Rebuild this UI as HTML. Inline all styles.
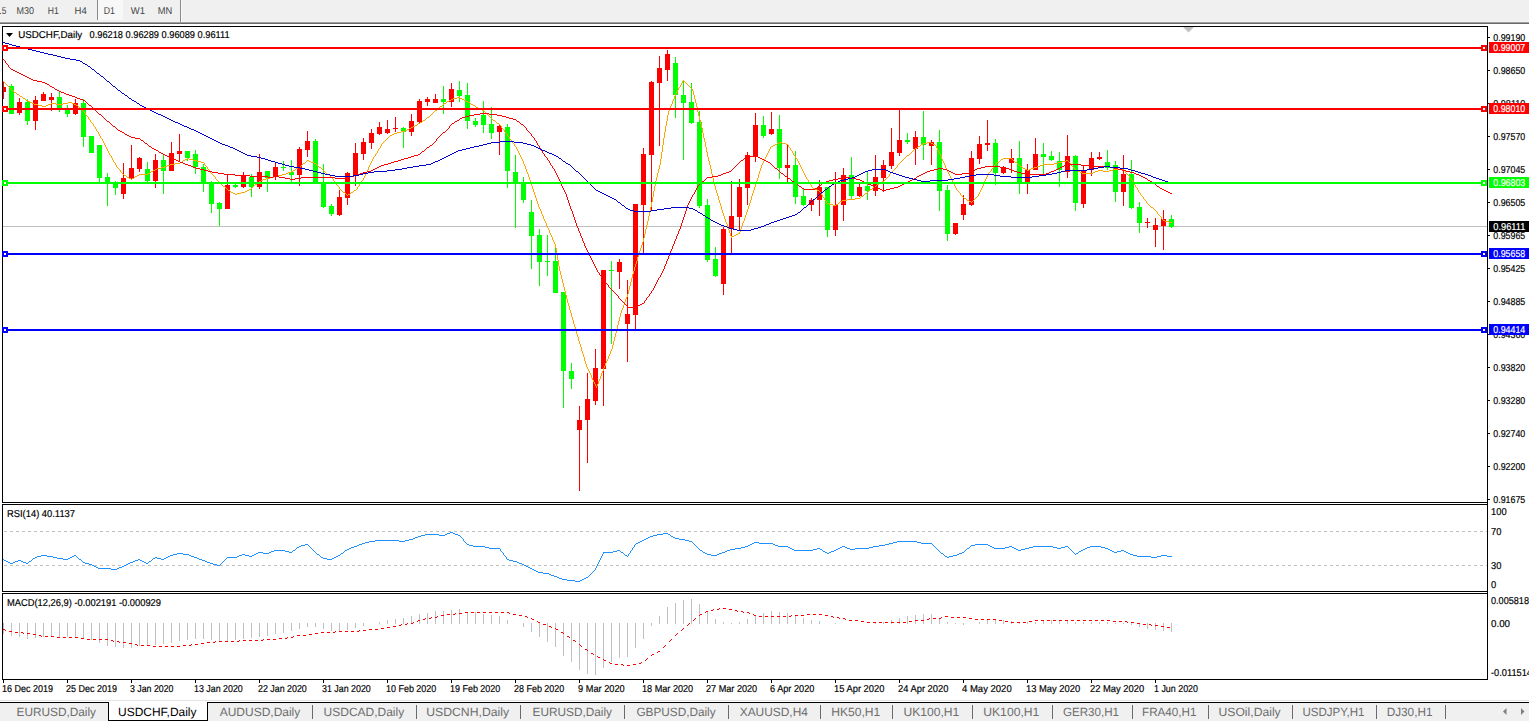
<!DOCTYPE html>
<html><head><meta charset="utf-8"><title>USDCHF,Daily</title>
<style>html,body{margin:0;padding:0;background:#fff;overflow:hidden}body{width:1529px;height:721px;font-family:"Liberation Sans",sans-serif}svg text{font-family:"Liberation Sans",sans-serif}</style></head>
<body>
<svg width="1529" height="721" viewBox="0 0 1529 721" font-family="Liberation Sans, sans-serif" shape-rendering="crispEdges" text-rendering="geometricPrecision" style="display:block">
<rect x="0" y="0" width="1529" height="721" fill="#fff" />
<rect x="0" y="0" width="1529" height="21" fill="#f0f0f0" />
<rect x="0" y="21" width="1529" height="1" fill="#f3f3f3" />
<rect x="0" y="13" width="1" height="1" fill="#555" />
<rect x="0" y="22" width="1529" height="1" fill="#a0a0a0" />
<rect x="0" y="23" width="1529" height="1" fill="#696969" />
<rect x="98" y="0" width="25" height="20" fill="#f8f8f8" />
<rect x="97" y="0" width="1" height="20" fill="#8a8a8a" />
<rect x="180" y="0" width="1" height="22" fill="#8a8a8a" />
<rect x="181" y="0" width="1" height="22" fill="#fafafa" />
<text x="1.8" y="13.6" font-size="10" fill="#444" stroke="#444" stroke-width="0" textLength="4.6" lengthAdjust="spacingAndGlyphs" >5</text>
<text x="16.5" y="13.6" font-size="10" fill="#444" stroke="#444" stroke-width="0" textLength="17.5" lengthAdjust="spacingAndGlyphs" >M30</text>
<text x="47.8" y="13.6" font-size="10" fill="#444" stroke="#444" stroke-width="0" textLength="11" lengthAdjust="spacingAndGlyphs" >H1</text>
<text x="74.5" y="13.6" font-size="10" fill="#444" stroke="#444" stroke-width="0" textLength="12.2" lengthAdjust="spacingAndGlyphs" >H4</text>
<text x="103.8" y="13.6" font-size="10" fill="#444" stroke="#444" stroke-width="0" textLength="11.2" lengthAdjust="spacingAndGlyphs" >D1</text>
<text x="130.8" y="13.6" font-size="10" fill="#444" stroke="#444" stroke-width="0" textLength="14.2" lengthAdjust="spacingAndGlyphs" >W1</text>
<text x="157.7" y="13.6" font-size="10" fill="#444" stroke="#444" stroke-width="0" textLength="14.5" lengthAdjust="spacingAndGlyphs" >MN</text>
<rect x="2" y="26" width="1486" height="1" fill="#000" />
<rect x="2" y="26" width="1" height="477" fill="#000" />
<rect x="2" y="502" width="1486" height="1" fill="#000" />
<rect x="2" y="504" width="1486" height="1" fill="#000" />
<rect x="2" y="504" width="1" height="88" fill="#000" />
<rect x="2" y="591" width="1486" height="1" fill="#000" />
<rect x="2" y="593" width="1486" height="1" fill="#000" />
<rect x="2" y="593" width="1" height="87" fill="#000" />
<rect x="2" y="679" width="1486" height="1" fill="#000" />
<rect x="1487" y="26" width="1" height="654" fill="#000" />
<clipPath id="cm"><rect x="3" y="27" width="1484" height="475"/></clipPath>
<g clip-path="url(#cm)">
<rect x="3" y="226" width="1484" height="1" fill="#c0c0c0" />
<rect x="3" y="81" width="1" height="18" fill="#ff0000" />
<rect x="1" y="87" width="5" height="5" fill="#ff0000" />
<rect x="11" y="84" width="1" height="30" fill="#00ff00" />
<rect x="9" y="86" width="5" height="28" fill="#00ff00" />
<rect x="19" y="98" width="1" height="17" fill="#ff0000" />
<rect x="17" y="102" width="5" height="11" fill="#ff0000" />
<rect x="27" y="99" width="1" height="26" fill="#00ff00" />
<rect x="25" y="102" width="5" height="19" fill="#00ff00" />
<rect x="35" y="96" width="1" height="34" fill="#ff0000" />
<rect x="33" y="100" width="5" height="21" fill="#ff0000" />
<rect x="43" y="92" width="1" height="9" fill="#ff0000" />
<rect x="41" y="94" width="5" height="7" fill="#ff0000" />
<rect x="51" y="93" width="1" height="18" fill="#ff0000" />
<rect x="49" y="97" width="5" height="3" fill="#ff0000" />
<rect x="59" y="92" width="1" height="20" fill="#00ff00" />
<rect x="57" y="97" width="5" height="11" fill="#00ff00" />
<rect x="67" y="105" width="1" height="12" fill="#00ff00" />
<rect x="65" y="110" width="5" height="4" fill="#00ff00" />
<rect x="75" y="99" width="1" height="16" fill="#ff0000" />
<rect x="73" y="103" width="5" height="11" fill="#ff0000" />
<rect x="83" y="99" width="1" height="48" fill="#00ff00" />
<rect x="81" y="103" width="5" height="34" fill="#00ff00" />
<rect x="91" y="136" width="1" height="17" fill="#00ff00" />
<rect x="89" y="136" width="5" height="17" fill="#00ff00" />
<rect x="99" y="145" width="1" height="37" fill="#00ff00" />
<rect x="97" y="145" width="5" height="33" fill="#00ff00" />
<rect x="107" y="173" width="1" height="33" fill="#00ff00" />
<rect x="105" y="177" width="5" height="6" fill="#00ff00" />
<rect x="115" y="181" width="1" height="14" fill="#00ff00" />
<rect x="113" y="183" width="5" height="5" fill="#00ff00" />
<rect x="123" y="163" width="1" height="36" fill="#ff0000" />
<rect x="121" y="178" width="5" height="16" fill="#ff0000" />
<rect x="131" y="145" width="1" height="35" fill="#ff0000" />
<rect x="129" y="168" width="5" height="10" fill="#ff0000" />
<rect x="139" y="157" width="1" height="15" fill="#ff0000" />
<rect x="137" y="158" width="5" height="11" fill="#ff0000" />
<rect x="147" y="162" width="1" height="20" fill="#00ff00" />
<rect x="145" y="169" width="5" height="12" fill="#00ff00" />
<rect x="155" y="154" width="1" height="34" fill="#ff0000" />
<rect x="153" y="160" width="5" height="21" fill="#ff0000" />
<rect x="163" y="155" width="1" height="39" fill="#00ff00" />
<rect x="161" y="160" width="5" height="11" fill="#00ff00" />
<rect x="171" y="142" width="1" height="29" fill="#ff0000" />
<rect x="169" y="153" width="5" height="18" fill="#ff0000" />
<rect x="179" y="134" width="1" height="28" fill="#ff0000" />
<rect x="177" y="151" width="5" height="3" fill="#ff0000" />
<rect x="187" y="151" width="1" height="10" fill="#00ff00" />
<rect x="185" y="151" width="5" height="7" fill="#00ff00" />
<rect x="195" y="150" width="1" height="24" fill="#00ff00" />
<rect x="193" y="154" width="5" height="13" fill="#00ff00" />
<rect x="203" y="164" width="1" height="28" fill="#00ff00" />
<rect x="201" y="167" width="5" height="16" fill="#00ff00" />
<rect x="211" y="181" width="1" height="32" fill="#00ff00" />
<rect x="209" y="183" width="5" height="21" fill="#00ff00" />
<rect x="219" y="202" width="1" height="24" fill="#00ff00" />
<rect x="217" y="203" width="5" height="6" fill="#00ff00" />
<rect x="227" y="175" width="1" height="34" fill="#ff0000" />
<rect x="225" y="185" width="5" height="24" fill="#ff0000" />
<rect x="235" y="184" width="1" height="4" fill="#00ff00" />
<rect x="233" y="185" width="5" height="2" fill="#00ff00" />
<rect x="243" y="172" width="1" height="16" fill="#ff0000" />
<rect x="241" y="176" width="5" height="11" fill="#ff0000" />
<rect x="251" y="174" width="1" height="23" fill="#00ff00" />
<rect x="249" y="177" width="5" height="10" fill="#00ff00" />
<rect x="259" y="154" width="1" height="35" fill="#ff0000" />
<rect x="257" y="172" width="5" height="15" fill="#ff0000" />
<rect x="267" y="171" width="1" height="21" fill="#00ff00" />
<rect x="265" y="171" width="5" height="7" fill="#00ff00" />
<rect x="275" y="162" width="1" height="18" fill="#ff0000" />
<rect x="273" y="167" width="5" height="10" fill="#ff0000" />
<rect x="283" y="161" width="1" height="10" fill="#00ff00" />
<rect x="281" y="167" width="5" height="1" fill="#00ff00" />
<rect x="291" y="160" width="1" height="22" fill="#00ff00" />
<rect x="289" y="172" width="5" height="3" fill="#00ff00" />
<rect x="299" y="147" width="1" height="39" fill="#ff0000" />
<rect x="297" y="149" width="5" height="26" fill="#ff0000" />
<rect x="307" y="131" width="1" height="26" fill="#ff0000" />
<rect x="305" y="141" width="5" height="9" fill="#ff0000" />
<rect x="315" y="139" width="1" height="45" fill="#00ff00" />
<rect x="313" y="141" width="5" height="43" fill="#00ff00" />
<rect x="323" y="164" width="1" height="44" fill="#00ff00" />
<rect x="321" y="184" width="5" height="23" fill="#00ff00" />
<rect x="331" y="204" width="1" height="12" fill="#00ff00" />
<rect x="329" y="206" width="5" height="8" fill="#00ff00" />
<rect x="339" y="190" width="1" height="26" fill="#ff0000" />
<rect x="337" y="197" width="5" height="18" fill="#ff0000" />
<rect x="347" y="172" width="1" height="33" fill="#ff0000" />
<rect x="345" y="173" width="5" height="25" fill="#ff0000" />
<rect x="355" y="143" width="1" height="43" fill="#ff0000" />
<rect x="353" y="153" width="5" height="23" fill="#ff0000" />
<rect x="363" y="138" width="1" height="22" fill="#ff0000" />
<rect x="361" y="142" width="5" height="12" fill="#ff0000" />
<rect x="371" y="129" width="1" height="20" fill="#ff0000" />
<rect x="369" y="133" width="5" height="10" fill="#ff0000" />
<rect x="379" y="122" width="1" height="13" fill="#ff0000" />
<rect x="377" y="127" width="5" height="7" fill="#ff0000" />
<rect x="387" y="120" width="1" height="14" fill="#ff0000" />
<rect x="385" y="129" width="5" height="4" fill="#ff0000" />
<rect x="395" y="117" width="1" height="15" fill="#ff0000" />
<rect x="393" y="128" width="5" height="1" fill="#ff0000" />
<rect x="403" y="127" width="1" height="21" fill="#00ff00" />
<rect x="401" y="128" width="5" height="4" fill="#00ff00" />
<rect x="411" y="114" width="1" height="22" fill="#ff0000" />
<rect x="409" y="121" width="5" height="11" fill="#ff0000" />
<rect x="419" y="99" width="1" height="25" fill="#ff0000" />
<rect x="417" y="101" width="5" height="21" fill="#ff0000" />
<rect x="427" y="97" width="1" height="9" fill="#ff0000" />
<rect x="425" y="99" width="5" height="3" fill="#ff0000" />
<rect x="435" y="94" width="1" height="9" fill="#ff0000" />
<rect x="433" y="99" width="5" height="4" fill="#ff0000" />
<rect x="443" y="86" width="1" height="28" fill="#00ff00" />
<rect x="441" y="99" width="5" height="3" fill="#00ff00" />
<rect x="451" y="83" width="1" height="24" fill="#ff0000" />
<rect x="449" y="89" width="5" height="13" fill="#ff0000" />
<rect x="459" y="81" width="1" height="21" fill="#00ff00" />
<rect x="457" y="90" width="5" height="6" fill="#00ff00" />
<rect x="467" y="83" width="1" height="46" fill="#00ff00" />
<rect x="465" y="95" width="5" height="26" fill="#00ff00" />
<rect x="475" y="118" width="1" height="9" fill="#00ff00" />
<rect x="473" y="121" width="5" height="4" fill="#00ff00" />
<rect x="483" y="101" width="1" height="32" fill="#00ff00" />
<rect x="481" y="115" width="5" height="10" fill="#00ff00" />
<rect x="491" y="107" width="1" height="32" fill="#00ff00" />
<rect x="489" y="124" width="5" height="9" fill="#00ff00" />
<rect x="499" y="124" width="1" height="31" fill="#ff0000" />
<rect x="497" y="126" width="5" height="6" fill="#ff0000" />
<rect x="507" y="124" width="1" height="64" fill="#00ff00" />
<rect x="505" y="127" width="5" height="44" fill="#00ff00" />
<rect x="515" y="155" width="1" height="73" fill="#00ff00" />
<rect x="513" y="172" width="5" height="11" fill="#00ff00" />
<rect x="523" y="177" width="1" height="26" fill="#00ff00" />
<rect x="521" y="183" width="5" height="17" fill="#00ff00" />
<rect x="531" y="200" width="1" height="69" fill="#00ff00" />
<rect x="529" y="212" width="5" height="24" fill="#00ff00" />
<rect x="539" y="229" width="1" height="57" fill="#00ff00" />
<rect x="537" y="235" width="5" height="27" fill="#00ff00" />
<rect x="547" y="235" width="1" height="41" fill="#00ff00" />
<rect x="545" y="261" width="5" height="1" fill="#00ff00" />
<rect x="555" y="247" width="1" height="46" fill="#00ff00" />
<rect x="553" y="261" width="5" height="32" fill="#00ff00" />
<rect x="563" y="292" width="1" height="116" fill="#00ff00" />
<rect x="561" y="292" width="5" height="79" fill="#00ff00" />
<rect x="571" y="363" width="1" height="26" fill="#00ff00" />
<rect x="569" y="371" width="5" height="8" fill="#00ff00" />
<rect x="579" y="406" width="1" height="85" fill="#ff0000" />
<rect x="577" y="420" width="5" height="10" fill="#ff0000" />
<rect x="587" y="373" width="1" height="90" fill="#ff0000" />
<rect x="585" y="399" width="5" height="21" fill="#ff0000" />
<rect x="595" y="349" width="1" height="56" fill="#ff0000" />
<rect x="593" y="368" width="5" height="33" fill="#ff0000" />
<rect x="603" y="270" width="1" height="136" fill="#ff0000" />
<rect x="601" y="270" width="5" height="99" fill="#ff0000" />
<rect x="611" y="261" width="1" height="83" fill="#00ff00" />
<rect x="609" y="270" width="5" height="1" fill="#00ff00" />
<rect x="619" y="259" width="1" height="30" fill="#ff0000" />
<rect x="617" y="262" width="5" height="10" fill="#ff0000" />
<rect x="627" y="280" width="1" height="82" fill="#ff0000" />
<rect x="625" y="314" width="5" height="10" fill="#ff0000" />
<rect x="635" y="204" width="1" height="125" fill="#ff0000" />
<rect x="633" y="204" width="5" height="111" fill="#ff0000" />
<rect x="643" y="148" width="1" height="105" fill="#ff0000" />
<rect x="641" y="154" width="5" height="51" fill="#ff0000" />
<rect x="651" y="81" width="1" height="129" fill="#ff0000" />
<rect x="649" y="82" width="5" height="73" fill="#ff0000" />
<rect x="659" y="56" width="1" height="90" fill="#ff0000" />
<rect x="657" y="68" width="5" height="15" fill="#ff0000" />
<rect x="667" y="50" width="1" height="31" fill="#ff0000" />
<rect x="665" y="54" width="5" height="16" fill="#ff0000" />
<rect x="675" y="57" width="1" height="61" fill="#00ff00" />
<rect x="673" y="63" width="5" height="32" fill="#00ff00" />
<rect x="683" y="80" width="1" height="80" fill="#00ff00" />
<rect x="681" y="95" width="5" height="8" fill="#00ff00" />
<rect x="691" y="83" width="1" height="41" fill="#00ff00" />
<rect x="689" y="102" width="5" height="21" fill="#00ff00" />
<rect x="699" y="111" width="1" height="97" fill="#00ff00" />
<rect x="697" y="122" width="5" height="84" fill="#00ff00" />
<rect x="707" y="199" width="1" height="63" fill="#00ff00" />
<rect x="705" y="205" width="5" height="55" fill="#00ff00" />
<rect x="715" y="247" width="1" height="30" fill="#00ff00" />
<rect x="713" y="259" width="5" height="17" fill="#00ff00" />
<rect x="723" y="227" width="1" height="68" fill="#ff0000" />
<rect x="721" y="229" width="5" height="55" fill="#ff0000" />
<rect x="731" y="181" width="1" height="72" fill="#ff0000" />
<rect x="729" y="216" width="5" height="13" fill="#ff0000" />
<rect x="739" y="179" width="1" height="52" fill="#ff0000" />
<rect x="737" y="187" width="5" height="30" fill="#ff0000" />
<rect x="747" y="152" width="1" height="53" fill="#ff0000" />
<rect x="745" y="155" width="5" height="33" fill="#ff0000" />
<rect x="755" y="113" width="1" height="49" fill="#ff0000" />
<rect x="753" y="125" width="5" height="31" fill="#ff0000" />
<rect x="763" y="116" width="1" height="22" fill="#00ff00" />
<rect x="761" y="125" width="5" height="11" fill="#00ff00" />
<rect x="771" y="112" width="1" height="23" fill="#ff0000" />
<rect x="769" y="129" width="5" height="5" fill="#ff0000" />
<rect x="779" y="115" width="1" height="64" fill="#00ff00" />
<rect x="777" y="129" width="5" height="39" fill="#00ff00" />
<rect x="787" y="144" width="1" height="38" fill="#ff0000" />
<rect x="785" y="165" width="5" height="3" fill="#ff0000" />
<rect x="795" y="151" width="1" height="53" fill="#00ff00" />
<rect x="793" y="165" width="5" height="32" fill="#00ff00" />
<rect x="803" y="188" width="1" height="18" fill="#00ff00" />
<rect x="801" y="196" width="5" height="9" fill="#00ff00" />
<rect x="811" y="198" width="1" height="13" fill="#ff0000" />
<rect x="809" y="200" width="5" height="5" fill="#ff0000" />
<rect x="819" y="180" width="1" height="36" fill="#ff0000" />
<rect x="817" y="187" width="5" height="13" fill="#ff0000" />
<rect x="827" y="187" width="1" height="50" fill="#00ff00" />
<rect x="825" y="187" width="5" height="43" fill="#00ff00" />
<rect x="835" y="172" width="1" height="64" fill="#ff0000" />
<rect x="833" y="205" width="5" height="25" fill="#ff0000" />
<rect x="843" y="168" width="1" height="53" fill="#ff0000" />
<rect x="841" y="175" width="5" height="30" fill="#ff0000" />
<rect x="851" y="157" width="1" height="43" fill="#00ff00" />
<rect x="849" y="175" width="5" height="21" fill="#00ff00" />
<rect x="859" y="184" width="1" height="13" fill="#ff0000" />
<rect x="857" y="187" width="5" height="9" fill="#ff0000" />
<rect x="867" y="172" width="1" height="28" fill="#00ff00" />
<rect x="865" y="186" width="5" height="5" fill="#00ff00" />
<rect x="875" y="155" width="1" height="41" fill="#ff0000" />
<rect x="873" y="177" width="5" height="14" fill="#ff0000" />
<rect x="883" y="160" width="1" height="32" fill="#ff0000" />
<rect x="881" y="165" width="5" height="13" fill="#ff0000" />
<rect x="891" y="128" width="1" height="41" fill="#ff0000" />
<rect x="889" y="152" width="5" height="14" fill="#ff0000" />
<rect x="899" y="110" width="1" height="46" fill="#ff0000" />
<rect x="897" y="140" width="5" height="13" fill="#ff0000" />
<rect x="907" y="133" width="1" height="11" fill="#00ff00" />
<rect x="905" y="140" width="5" height="2" fill="#00ff00" />
<rect x="915" y="131" width="1" height="34" fill="#ff0000" />
<rect x="913" y="137" width="5" height="12" fill="#ff0000" />
<rect x="923" y="111" width="1" height="49" fill="#00ff00" />
<rect x="921" y="137" width="5" height="8" fill="#00ff00" />
<rect x="931" y="140" width="1" height="25" fill="#ff0000" />
<rect x="929" y="142" width="5" height="4" fill="#ff0000" />
<rect x="939" y="130" width="1" height="81" fill="#00ff00" />
<rect x="937" y="142" width="5" height="49" fill="#00ff00" />
<rect x="947" y="185" width="1" height="56" fill="#00ff00" />
<rect x="945" y="190" width="5" height="44" fill="#00ff00" />
<rect x="955" y="223" width="1" height="12" fill="#ff0000" />
<rect x="953" y="223" width="5" height="11" fill="#ff0000" />
<rect x="963" y="195" width="1" height="25" fill="#ff0000" />
<rect x="961" y="204" width="5" height="11" fill="#ff0000" />
<rect x="971" y="151" width="1" height="55" fill="#ff0000" />
<rect x="969" y="158" width="5" height="47" fill="#ff0000" />
<rect x="979" y="136" width="1" height="28" fill="#ff0000" />
<rect x="977" y="144" width="5" height="15" fill="#ff0000" />
<rect x="987" y="120" width="1" height="31" fill="#ff0000" />
<rect x="985" y="143" width="5" height="2" fill="#ff0000" />
<rect x="995" y="139" width="1" height="46" fill="#00ff00" />
<rect x="993" y="143" width="5" height="30" fill="#00ff00" />
<rect x="1003" y="166" width="1" height="8" fill="#ff0000" />
<rect x="1001" y="167" width="5" height="6" fill="#ff0000" />
<rect x="1011" y="149" width="1" height="24" fill="#ff0000" />
<rect x="1009" y="158" width="5" height="5" fill="#ff0000" />
<rect x="1019" y="141" width="1" height="53" fill="#00ff00" />
<rect x="1017" y="158" width="5" height="26" fill="#00ff00" />
<rect x="1027" y="164" width="1" height="30" fill="#ff0000" />
<rect x="1025" y="170" width="5" height="12" fill="#ff0000" />
<rect x="1035" y="138" width="1" height="32" fill="#ff0000" />
<rect x="1033" y="154" width="5" height="16" fill="#ff0000" />
<rect x="1043" y="143" width="1" height="32" fill="#00ff00" />
<rect x="1041" y="154" width="5" height="3" fill="#00ff00" />
<rect x="1051" y="151" width="1" height="10" fill="#00ff00" />
<rect x="1049" y="156" width="5" height="4" fill="#00ff00" />
<rect x="1059" y="152" width="1" height="35" fill="#00ff00" />
<rect x="1057" y="161" width="5" height="9" fill="#00ff00" />
<rect x="1067" y="135" width="1" height="43" fill="#ff0000" />
<rect x="1065" y="156" width="5" height="16" fill="#ff0000" />
<rect x="1075" y="155" width="1" height="56" fill="#00ff00" />
<rect x="1073" y="156" width="5" height="47" fill="#00ff00" />
<rect x="1083" y="166" width="1" height="42" fill="#ff0000" />
<rect x="1081" y="170" width="5" height="34" fill="#ff0000" />
<rect x="1091" y="152" width="1" height="24" fill="#ff0000" />
<rect x="1089" y="158" width="5" height="12" fill="#ff0000" />
<rect x="1099" y="152" width="1" height="8" fill="#ff0000" />
<rect x="1097" y="157" width="5" height="2" fill="#ff0000" />
<rect x="1107" y="150" width="1" height="20" fill="#00ff00" />
<rect x="1105" y="162" width="5" height="6" fill="#00ff00" />
<rect x="1115" y="161" width="1" height="41" fill="#00ff00" />
<rect x="1113" y="165" width="5" height="27" fill="#00ff00" />
<rect x="1123" y="155" width="1" height="51" fill="#ff0000" />
<rect x="1121" y="174" width="5" height="18" fill="#ff0000" />
<rect x="1131" y="160" width="1" height="49" fill="#00ff00" />
<rect x="1129" y="174" width="5" height="34" fill="#00ff00" />
<rect x="1139" y="202" width="1" height="31" fill="#00ff00" />
<rect x="1137" y="207" width="5" height="16" fill="#00ff00" />
<rect x="1147" y="218" width="1" height="10" fill="#ff0000" />
<rect x="1145" y="222" width="5" height="1" fill="#ff0000" />
<rect x="1155" y="218" width="1" height="29" fill="#ff0000" />
<rect x="1153" y="225" width="5" height="5" fill="#ff0000" />
<rect x="1163" y="210" width="1" height="40" fill="#ff0000" />
<rect x="1161" y="219" width="5" height="7" fill="#ff0000" />
<rect x="1171" y="215" width="1" height="13" fill="#00ff00" />
<rect x="1169" y="219" width="5" height="8" fill="#00ff00" />
<path d="M151 171.5h2M291 171.5h2M1078 171.5h2M1095 171.5h3M1103 171.5h6M185 159.5h2M189 159.5h4M1001 159.5h2M153 170.5h2M293 170.5h2M1027 170.5h2M1076 170.5h2M1098 170.5h5M1109 170.5h4M771 146.5h2M918 146.5h2M17 94.5h2M407 129.5h2M127 177.5h2M270 177.5h4M249 189.5h2M815 189.5h2M870 189.5h2M129 178.5h2M132 178.5h2M266 178.5h4M139 174.5h9M282 174.5h4M327 174.5h2M175 163.5h5M303 163.5h2M314 163.5h2M1054 163.5h4M394 133.5h3M170 164.5h5M1043 164.5h11M32 103.5h2M51 103.5h5M63 103.5h5M72 103.5h2M444 103.5h2M34 104.5h4M48 104.5h3M56 104.5h7M74 104.5h2M471 104.5h2M183 160.5h2M193 160.5h4M307 160.5h2M1066 160.5h2M263 179.5h3M405 130.5h2M197 161.5h4M309 161.5h2M1062 161.5h4M187 158.5h2M1003 158.5h9M259 181.5h2M882 181.5h2M775 144.5h2M786 144.5h2M921 144.5h2M933 144.5h2M840 201.5h2M969 201.5h2M880 182.5h2M235 194.5h2M348 194.5h2M1151 207.5h2M148 173.5h2M286 173.5h2M1082 173.5h11M30 102.5h2M68 102.5h4M468 102.5h2M427 117.5h2M827 203.5h2M409 128.5h2M165 166.5h2M1020 166.5h2M1037 166.5h3M915 148.5h2M26 100.5h2M449 100.5h2M464 100.5h2M401 131.5h4M135 176.5h2M274 176.5h4M180 162.5h2M201 162.5h3M311 162.5h3M997 162.5h2M1015 162.5h2M1058 162.5h4M829 204.5h4M836 204.5h2M731 236.5h3M261 180.5h2M855 198.5h5M964 198.5h2M907 155.5h2M420 122.5h2M155 169.5h2M1025 169.5h2M1029 169.5h2M1113 169.5h11M288 172.5h3M1080 172.5h2M1093 172.5h2M28 101.5h2M447 101.5h2M466 101.5h2M161 167.5h4M298 167.5h2M319 167.5h2M1034 167.5h3M157 168.5h4M296 168.5h2M1023 168.5h2M1031 168.5h3M1169 222.5h3M223 186.5h2M874 186.5h2M423 120.5h2M493 120.5h2M861 196.5h2M255 184.5h2M877 184.5h2M167 165.5h3M1040 165.5h3M413 126.5h2M20 96.5h2M813 188.5h2M773 145.5h2M833 205.5h3M14 92.5h2M245 191.5h2M777 143.5h2M782 143.5h4M923 143.5h4M931 143.5h2M124 175.5h2M137 175.5h2M278 175.5h4M415 125.5h2M231 192.5h2M241 192.5h4M343 192.5h2M351 192.5h2M418 123.5h2M497 123.5h2M38 105.5h4M46 105.5h2M76 105.5h2M473 105.5h2M233 193.5h2M237 193.5h4M865 193.5h2M42 106.5h4M440 106.5h2M847 199.5h8M476 107.5h2M1165 221.5h4M23 98.5h2M453 98.5h4M460 98.5h2M451 99.5h2M462 99.5h2M779 142.5h3M927 142.5h4M411 127.5h2M842 200.5h5M967 200.5h2M480 109.5h2M734 235.5h2M228 190.5h2M247 190.5h2M354 190.5h2M817 190.5h2M435 110.5h2M482 110.5h2M390 135.5h2M392 134.5h2M397 132.5h4M1163 220.5h2M457 97.5h3M478 108.5h2M736 234.5h2M738 233.5h2M367.5 170v2M16.5 93v1M336.5 183v2M1161.5 217v2M88.5 117v2M601.5 373v3M5.5 83v1M380.5 146v2M665.5 126v6M758.5 174v4M340.5 189v1M6.5 84v1M727.5 224v3M982.5 186v2M363.5 178v2M609.5 354v2M703.5 133v5M561.5 275v4M767.5 153v2M625.5 299v3M109.5 153v2M562.5 279v4M113.5 160v2M656.5 177v4M642.5 242v3M504.5 130v2M763.5 161v2M796.5 158v1M218.5 181v1M797.5 159v2M219.5 182v1M742.5 223v3M534.5 192v3M955.5 186v2M11.5 89v1M585.5 361v3M699.5 116v4M630.5 282v4M12.5 90v1M749.5 203v3M540.5 209v2M646.5 225v4M702.5 128v5M659.5 165v4M379.5 148v1M599.5 379v2M673.5 99v2M757.5 178v3M664.5 132v6M547.5 226v2M572.5 317v3M688.5 85v1M362.5 180v1M617.5 325v4M608.5 356v3M375.5 154v2M944.5 163v2M941.5 156v3M705.5 142v5M554.5 242v2M667.5 115v6M754.5 187v3M695.5 99v4M1133.5 182v2M641.5 245v3M385.5 140v1M1137.5 188v2M567.5 299v4M761.5 165v3M722.5 210v3M338.5 186v1M89.5 119v1M432.5 113v1M740.5 229v3M748.5 206v3M90.5 120v2M612.5 345v4M672.5 101v3M726.5 222v2M663.5 138v7M111.5 156v2M718.5 196v4M577.5 334v3M752.5 193v3M535.5 195v3M648.5 216v5M721.5 206v4M126.5 176v1M1019.5 165v1M581.5 347v4M760.5 168v3M1154.5 209v1M708.5 157v4M654.5 186v5M557.5 254v6M739.5 232v1M570.5 310v3M806.5 177v2M711.5 169v5M768.5 151v2M100.5 136v2M573.5 320v4M546.5 223v3M693.5 91v4M690.5 87v1M104.5 143v2M942.5 159v2M644.5 234v4M900.5 162v1M657.5 173v4M552.5 237v3M563.5 283v4M662.5 145v7M1071.5 164v2M1135.5 185v2M897.5 165v2M1125.5 171v2M949.5 174v2M707.5 152v5M1014.5 161v1M631.5 278v4M751.5 196v4M1139.5 192v1M950.5 176v2M122.5 173v1M892.5 171v1M661.5 152v7M1150.5 206v1M913.5 150v1M517.5 149v2M254.5 185v1M92.5 123v1M520.5 155v2M559.5 266v5M619.5 317v4M904.5 158v1M714.5 182v4M530.5 180v3M531.5 183v3M442.5 105v1M979.5 192v2M230.5 191v1M696.5 103v4M974.5 199v1M872.5 188v1M697.5 107v5M614.5 337v4M384.5 141v1M959.5 192v1M911.5 152v1M660.5 159v6M1157.5 212v2M960.5 193v2M971.5 202v1M804.5 173v2M807.5 179v1M569.5 306v4M808.5 180v2M652.5 197v5M102.5 139v2M692.5 89v2M204.5 163v2M948.5 172v2M978.5 194v2M226.5 188v1M131.5 179v1M655.5 181v5M501.5 126v2M719.5 200v3M605.5 363v3M1074.5 168v1M986.5 177v2M800.5 165v2M537.5 201v3M582.5 351v3M8.5 86v1M19.5 95v1M558.5 260v6M378.5 149v2M712.5 174v4M825.5 200v1M526.5 169v3M937.5 148v2M592.5 378v2M374.5 156v1M529.5 177v3M681.5 83v2M788.5 145v2M633.5 271v3M357.5 187v2M221.5 184v1M789.5 147v1M989.5 172v1M370.5 163v2M894.5 169v1M604.5 366v2M961.5 195v1M437.5 109v1M1158.5 214v1M985.5 179v2M1159.5 215v1M809.5 182v1M317.5 165v1M335.5 182v1M810.5 183v2M906.5 156v1M628.5 290v4M339.5 187v2M658.5 169v4M729.5 230v3M650.5 207v5M680.5 85v2M206.5 166v1M532.5 186v3M1129.5 176v2M632.5 274v4M485.5 112v1M503.5 129v1M1143.5 197v2M369.5 165v2M676.5 92v2M802.5 169v2M507.5 134v2M799.5 163v2M536.5 198v3M10.5 88v1M542.5 214v2M935.5 145v1M524.5 164v2M627.5 294v3M936.5 146v2M636.5 261v3M591.5 375v3M549.5 230v3M301.5 165v1M576.5 331v3M943.5 161v2M694.5 95v4M553.5 240v2M566.5 295v4M1022.5 167v1M963.5 197v1M869.5 190v1M912.5 151v1M253.5 186v1M724.5 216v3M337.5 185v1M422.5 121v1M635.5 264v3M1127.5 174v1M110.5 155v1M208.5 169v1M1128.5 175v1M991.5 169v2M505.5 132v1M920.5 145v1M487.5 114v1M1017.5 163v1M383.5 142v1M509.5 137v2M750.5 200v3M541.5 211v3M994.5 165v2M634.5 267v4M879.5 183v1M359.5 184v2M706.5 147v5M555.5 244v4M762.5 163v2M1160.5 216v1M952.5 180v2M621.5 310v3M741.5 226v3M1138.5 190v2M1162.5 219v1M723.5 213v3M150.5 172v1M638.5 254v3M629.5 286v4M91.5 122v1M519.5 153v2M887.5 177v1M715.5 186v4M668.5 111v4M134.5 177v1M616.5 329v4M898.5 164v1M112.5 158v2M115.5 163v2M210.5 171v2M578.5 337v4M753.5 190v3M511.5 140v2M890.5 173v1M958.5 191v1M22.5 97v1M346.5 194v1M366.5 172v2M637.5 257v4M885.5 179v1M905.5 157v1M821.5 194v1M981.5 188v2M443.5 104v1M679.5 87v1M1140.5 193v2M972.5 201v1M675.5 94v2M182.5 161v1M839.5 202v1M653.5 191v6M584.5 357v4M82.5 110v1M341.5 190v1M521.5 157v2M701.5 124v4M610.5 351v3M342.5 191v1M93.5 124v2M587.5 367v2M365.5 174v2M756.5 181v3M598.5 381v3M300.5 166v1M594.5 382v2M361.5 181v2M389.5 136v1M1132.5 180v2M556.5 248v6M258.5 182v1M513.5 143v1M326.5 173v1M13.5 91v1M674.5 96v3M819.5 191v1M618.5 321v4M812.5 187v1M364.5 176v2M103.5 141v2M597.5 384v2M995.5 164v1M990.5 171v1M360.5 183v1M876.5 185v1M475.5 106v1M1141.5 195v1M613.5 341v4M1142.5 196v1M966.5 199v1M801.5 167v2M759.5 171v3M94.5 126v1M333.5 179v2M429.5 116v1M700.5 120v4M95.5 127v2M586.5 364v3M575.5 327v4M938.5 150v2M593.5 380v2M551.5 235v2M596.5 386v2M643.5 238v4M548.5 228v2M669.5 109v2M793.5 153v2M433.5 112v1M962.5 196v1M891.5 172v1M770.5 147v2M863.5 195v1M886.5 178v1M745.5 215v3M1126.5 173v1M207.5 167v2M533.5 189v3M698.5 112v4M1144.5 199v1M603.5 368v3M620.5 313v4M910.5 153v1M251.5 188v1M543.5 216v3M769.5 149v2M611.5 349v2M574.5 324v3M624.5 302v3M744.5 218v3M615.5 333v4M791.5 150v1M492.5 119v1M792.5 151v2M795.5 156v2M838.5 203v1M78.5 106v1M728.5 227v3M560.5 271v4M528.5 174v3M764.5 159v2M388.5 137v1M373.5 157v2M1068.5 161v1M114.5 162v1M743.5 221v2M975.5 198v1M873.5 187v1M356.5 189v1M666.5 121v5M322.5 169v1M1146.5 201v2M710.5 165v4M426.5 118v1M747.5 209v3M376.5 153v1M106.5 147v2M755.5 184v3M945.5 165v3M372.5 159v2M720.5 203v3M1153.5 208v1M368.5 167v3M318.5 166v1M329.5 175v1M80.5 108v1M523.5 161v3M589.5 371v2M713.5 178v4M544.5 219v2M860.5 197v1M651.5 202v5M689.5 86v1M527.5 172v2M1130.5 178v1M116.5 165v2M1070.5 163v1M1131.5 179v1M211.5 173v1M1134.5 184v1M508.5 136v1M1148.5 204v1M568.5 303v3M709.5 161v4M324.5 171v1M512.5 142v1M325.5 172v1M868.5 191v1M571.5 313v4M600.5 376v3M252.5 187v1M105.5 145v2M108.5 151v2M766.5 155v2M564.5 287v4M977.5 196v1M417.5 124v1M951.5 178v2M954.5 184v2M539.5 207v2M1155.5 210v1M382.5 143v1M909.5 154v1M331.5 177v1M522.5 159v2M645.5 229v5M588.5 369v2M97.5 131v1M996.5 163v1M980.5 190v2M209.5 170v1M550.5 233v2M595.5 384v2M607.5 359v2M1072.5 166v1M649.5 212v4M488.5 115v1M1136.5 187v1M499.5 124v1M510.5 139v1M489.5 116v1M640.5 248v3M353.5 191v1M514.5 144v2M381.5 144v2M820.5 192v2M671.5 104v2M377.5 151v2M704.5 138v4M717.5 193v3M606.5 361v2M495.5 121v1M434.5 111v1M639.5 251v3M538.5 204v3M583.5 354v3M805.5 175v2M96.5 129v2M99.5 134v2M884.5 180v1M682.5 81v2M371.5 161v2M120.5 170v2M565.5 291v4M215.5 177v2M490.5 117v1M678.5 88v2M790.5 148v2M896.5 167v1M491.5 118v1M647.5 221v4M516.5 147v2M347.5 195v1M822.5 195v2M684.5 81v1M811.5 185v2M902.5 160v1M826.5 201v2M685.5 82v1M302.5 164v1M730.5 233v3M716.5 190v3M677.5 90v2M83.5 111v1M803.5 171v2M321.5 168v1M1145.5 200v1M867.5 192v1M940.5 154v2M765.5 157v2M213.5 175v1M976.5 197v1M947.5 170v2M917.5 147v1M973.5 200v1M316.5 164v1M350.5 193v1M725.5 219v3M525.5 166v3M686.5 83v1M687.5 84v1M484.5 111v1M580.5 344v3M623.5 305v3M988.5 173v2M1147.5 203v1M25.5 99v1M85.5 113v2M323.5 170v1M984.5 181v2M670.5 106v3M107.5 149v2M439.5 107v1M794.5 155v1M622.5 308v2M798.5 161v2M1018.5 164v1M956.5 188v2M987.5 175v2M953.5 182v2M602.5 371v2M430.5 115v1M983.5 183v3M903.5 159v1M545.5 221v2M746.5 212v3M590.5 373v2M117.5 167v1M486.5 113v1M579.5 341v3M895.5 168v1M1013.5 160v1M4.5 82v1M87.5 116v1M864.5 194v1M217.5 180v1M387.5 138v1M914.5 149v1M79.5 107v1M305.5 162v1M98.5 132v2M425.5 119v1M101.5 138v1M993.5 167v1M1069.5 162v1M118.5 168v1M358.5 186v1M119.5 169v1M225.5 187v1M470.5 103v1M518.5 151v2M7.5 85v1M515.5 146v1M1000.5 160v1M731.5 237v1M824.5 198v2M683.5 80v1M220.5 183v1M330.5 176v1M81.5 109v1M889.5 174v2M431.5 114v1M939.5 152v2M212.5 174v1M438.5 108v1M121.5 172v1M946.5 168v2M1149.5 205v1M227.5 189v1M502.5 128v1M823.5 197v1M446.5 102v1M626.5 297v2M899.5 163v1M222.5 185v1M1156.5 211v1M332.5 178v1M306.5 161v1M691.5 88v1M1073.5 167v1M500.5 125v1M214.5 176v1M386.5 139v1M123.5 174v1M992.5 168v1M496.5 122v1M1012.5 159v1M334.5 181v1M3.5 81v1M86.5 115v1M999.5 161v1M1124.5 170v1M901.5 161v1M205.5 165v1M1075.5 169v1M216.5 179v1M506.5 133v1M9.5 87v1M893.5 170v1M957.5 190v1M888.5 176v1M345.5 193v1M295.5 169v1M84.5 112v1M257.5 183v1" fill="none" stroke="#ffa500" stroke-width="1"/>
<path d="M208 171.5h4M367 171.5h4M729 171.5h2M927 171.5h3M949 171.5h2M971 171.5h2M1014 171.5h3M1051 171.5h3M1126 171.5h4M196 168.5h4M375 168.5h2M775 168.5h2M938 168.5h5M977 168.5h4M1005 168.5h4M1058 168.5h2M1114 168.5h4M224 174.5h11M358 174.5h2M721 174.5h2M921 174.5h2M955 174.5h7M1026 174.5h20M1136 174.5h3M191 166.5h2M379 166.5h2M985 166.5h15M1062 166.5h2M1091 166.5h19M99 114.5h2M474 114.5h6M489 114.5h8M290 179.5h5M833 179.5h5M856 179.5h4M912 179.5h2M212 172.5h6M363 172.5h4M726 172.5h3M925 172.5h2M951 172.5h2M969 172.5h2M1017 172.5h4M1049 172.5h2M1130 172.5h4M250 176.5h18M273 176.5h6M350 176.5h4M712 176.5h6M785 176.5h2M917 176.5h2M1141 176.5h2M37 81.5h5M1168 192.5h2M200 169.5h4M373 169.5h2M934 169.5h4M943 169.5h4M975 169.5h2M1009 169.5h3M1056 169.5h2M1118 169.5h4M268 177.5h5M279 177.5h6M301 177.5h34M346 177.5h4M707 177.5h5M844 177.5h6M1143 177.5h2M154 149.5h2M218 173.5h6M360 173.5h3M723 173.5h3M781 173.5h2M923 173.5h2M953 173.5h2M962 173.5h7M1021 173.5h5M1046 173.5h3M1134 173.5h2M462 117.5h3M506 117.5h3M285 178.5h5M295 178.5h6M335 178.5h11M788 178.5h2M838 178.5h6M850 178.5h6M914 178.5h2M1145 178.5h2M427 147.5h2M430 145.5h2M131 137.5h4M167 156.5h2M411 156.5h3M747 156.5h11M125 134.5h2M702 181.5h2M792 181.5h2M826 181.5h3M862 181.5h2M908 181.5h2M1150 181.5h2M457 120.5h2M829 180.5h4M860 180.5h2M910 180.5h2M1148 180.5h2M75 97.5h2M173 159.5h3M401 159.5h3M762 159.5h2M77 98.5h3M235 175.5h15M354 175.5h4M718 175.5h3M919 175.5h2M1139 175.5h2M178 161.5h2M394 161.5h4M766 161.5h2M465 116.5h4M502 116.5h4M452 123.5h2M188 165.5h3M381 165.5h3M1064 165.5h6M1081 165.5h10M193 167.5h3M377 167.5h2M981 167.5h4M1000 167.5h5M1060 167.5h2M1110 167.5h4M469 115.5h5M497 115.5h5M185 164.5h3M384 164.5h4M1070 164.5h11M795 183.5h2M822 183.5h2M866 183.5h2M904 183.5h2M1153 183.5h2M135 138.5h5M176 160.5h2M398 160.5h3M741 160.5h2M764 160.5h2M204 170.5h4M371 170.5h2M930 170.5h4M947 170.5h2M973 170.5h2M1012 170.5h2M1054 170.5h2M1122 170.5h4M120 131.5h2M169 157.5h2M408 157.5h3M745 157.5h2M758 157.5h2M480 113.5h9M799 186.5h2M873 186.5h2M898 186.5h2M1157 186.5h2M145 143.5h2M25 76.5h2M17 72.5h2M27 77.5h2M19 73.5h2M11 69.5h2M636 306.5h2M55 89.5h2M819 185.5h2M871 185.5h2M900 185.5h2M875 187.5h3M894 187.5h4M804 189.5h11M880 189.5h2M886 189.5h4M1162 189.5h2M66 94.5h3M152 148.5h2M42 82.5h3M149 146.5h2M183 163.5h2M388 163.5h3M122 132.5h2M443 132.5h2M513 119.5h3M31 79.5h2M180 162.5h3M391 162.5h3M768 162.5h2M113 126.5h2M628 307.5h8M61 92.5h3M127 135.5h2M72 96.5h3M64 93.5h2M1166 191.5h2M882 190.5h4M1164 190.5h2M868 184.5h3M902 184.5h2M460 118.5h2M509 118.5h4M824 182.5h2M864 182.5h2M906 182.5h2M171 158.5h2M404 158.5h4M760 158.5h2M1170 193.5h2M69 95.5h3M47 84.5h2M802 188.5h2M815 188.5h2M878 188.5h2M890 188.5h4M1160 188.5h2M129 136.5h2M107 121.5h2M455 121.5h2M517 121.5h2M161 153.5h2M165 155.5h2M414 155.5h4M21 74.5h2M15 71.5h2M59 91.5h2M52 87.5h2M642 303.5h2M118 130.5h2M521 124.5h2M57 90.5h2M163 154.5h2M418 154.5h2M45 83.5h2M638 305.5h2M80 99.5h3M640 304.5h2M159 152.5h2M89 105.5h2M13 70.5h2M50 86.5h2M156 150.5h2M422 151.5h2M33 80.5h4M141 140.5h2M83 100.5h2M29 78.5h2M23 75.5h2M572.5 211v3M665.5 264v2M603.5 280v1M593.5 262v2M433.5 143v1M596.5 268v2M625.5 304v1M604.5 281v1M681.5 223v3M645.5 300v1M648.5 296v1M626.5 305v1M610.5 288v1M110.5 123v1M578.5 228v3M694.5 192v2M685.5 211v3M54.5 88v1M561.5 183v3M677.5 234v2M673.5 244v2M701.5 182v1M732.5 169v1M147.5 144v1M88.5 104v1M575.5 220v3M539.5 146v2M9.5 67v1M705.5 179v1M568.5 200v3M148.5 145v1M660.5 275v2M690.5 199v2M618.5 296v2M436.5 139v2M599.5 273v2M664.5 266v3M106.5 120v1M592.5 260v2M564.5 190v2M524.5 126v1M656.5 282v2M668.5 256v3M577.5 226v2M531.5 134v2M542.5 151v2M535.5 140v1M584.5 243v3M667.5 259v2M676.5 236v3M644.5 301v2M818.5 186v1M595.5 266v2M520.5 123v1M672.5 246v3M651.5 291v2M94.5 109v1M563.5 188v2M143.5 141v1M571.5 209v2M95.5 110v1M534.5 138v2M420.5 153v1M538.5 145v1M8.5 65v2M567.5 197v3M435.5 141v1M519.5 122v1M1156.5 185v1M424.5 150v1M739.5 162v1M780.5 172v1M663.5 269v2M620.5 299v1M105.5 119v1M581.5 236v2M116.5 128v1M602.5 278v2M621.5 300v1M573.5 214v3M691.5 197v2M591.5 258v2M117.5 129v1M594.5 264v2M447.5 129v1M659.5 277v1M527.5 130v1M570.5 206v3M588.5 252v2M560.5 181v2M541.5 149v2M675.5 239v2M544.5 154v2M613.5 291v1M537.5 143v2M545.5 156v1M655.5 284v2M680.5 226v3M101.5 115v1M674.5 241v3M580.5 233v3M791.5 180v1M601.5 276v2M450.5 125v1M794.5 182v1M562.5 186v2M526.5 128v2M654.5 286v2M454.5 122v1M734.5 167v1M700.5 183v1M1152.5 182v1M576.5 223v3M627.5 306v1M587.5 250v2M559.5 179v2M540.5 148v1M112.5 125v1M671.5 249v2M438.5 137v1M790.5 179v1M688.5 203v2M817.5 187v1M566.5 194v3M658.5 278v2M670.5 251v3M605.5 282v1M647.5 297v1M683.5 217v3M525.5 127v1M590.5 256v2M687.5 205v3M662.5 271v2M97.5 112v1M558.5 177v2M536.5 141v2M682.5 220v3M698.5 185v1M449.5 126v2M548.5 160v1M686.5 208v3M650.5 293v1M582.5 238v3M653.5 288v2M623.5 302v1M589.5 254v2M426.5 148v1M608.5 285v2M586.5 248v2M144.5 142v1M569.5 203v3M543.5 153v1M85.5 101v1M3.5 59v1M547.5 158v2M678.5 231v3M736.5 165v1M615.5 293v1M770.5 163v1M801.5 187v1M661.5 273v2M579.5 231v2M622.5 301v1M689.5 201v2M440.5 135v1M771.5 164v1M96.5 111v1M528.5 131v1M557.5 175v2M657.5 280v2M529.5 132v1M669.5 254v2M550.5 163v2M649.5 294v2M743.5 159v1M554.5 169v2M693.5 194v1M733.5 168v1M140.5 139v1M607.5 284v1M697.5 186v2M437.5 138v1M516.5 120v1M585.5 246v2M5.5 61v2M614.5 292v1M574.5 217v3M546.5 157v1M432.5 144v1M549.5 161v2M6.5 63v1M684.5 214v3M102.5 116v1M778.5 170v1M103.5 117v1M158.5 151v1M740.5 161v1M606.5 283v1M704.5 180v1M151.5 147v1M731.5 170v1M448.5 128v1M552.5 166v2M556.5 173v2M553.5 168v1M777.5 169v1M821.5 184v1M696.5 188v2M91.5 106v1M679.5 229v2M692.5 195v2M738.5 163v1M98.5 113v1M787.5 177v1M459.5 119v1M4.5 60v1M442.5 133v1M652.5 290v1M87.5 103v1M49.5 85v1M624.5 303v1M772.5 165v1M783.5 174v1M609.5 287v1M523.5 125v1M773.5 166v1M784.5 175v1M451.5 124v1M86.5 102v1M555.5 171v2M109.5 122v1M646.5 298v2M735.5 166v1M530.5 133v1M551.5 165v1M616.5 294v1M446.5 130v1M916.5 177v1M617.5 295v1M439.5 136v1M124.5 133v1M598.5 272v1M1159.5 187v1M699.5 184v1M565.5 192v2M666.5 261v3M434.5 142v1M695.5 190v2M583.5 241v2M798.5 185v1M7.5 64v1M1155.5 184v1M706.5 178v1M597.5 270v2M779.5 171v1M104.5 118v1M115.5 127v1M93.5 108v1M797.5 184v1M532.5 136v1M533.5 137v1M619.5 298v1M421.5 152v1M744.5 158v1M92.5 107v1M737.5 164v1M774.5 167v1M611.5 289v1M441.5 134v1M612.5 290v1M445.5 131v1M111.5 124v1M425.5 149v1M10.5 68v1M1147.5 179v1M600.5 275v1M429.5 146v1" fill="none" stroke="#ff0000" stroke-width="1"/>
<path d="M300 168.5h5M402 168.5h5M1093 168.5h5M1120 168.5h8M44 53.5h4M313 171.5h4M374 171.5h13M576 171.5h2M865 171.5h3M888 171.5h2M1061 171.5h4M1135 171.5h3M282 164.5h3M426 164.5h5M568 164.5h2M721 225.5h3M764 225.5h2M325 174.5h5M359 174.5h4M859 174.5h2M896 174.5h3M976 174.5h18M1046 174.5h6M1145 174.5h3M335 176.5h18M855 176.5h2M902 176.5h3M965 176.5h5M1000 176.5h11M1032 176.5h7M1151 176.5h2M216 141.5h2M500 141.5h14M182 125.5h2M317 172.5h4M368 172.5h6M863 172.5h2M890 172.5h3M1057 172.5h4M1138 172.5h3M626 208.5h2M664 208.5h7M689 208.5h4M76 60.5h4M48 54.5h5M265 159.5h3M440 159.5h2M309 170.5h4M387 170.5h8M868 170.5h4M886 170.5h2M1065 170.5h22M1131 170.5h4M733 229.5h4M751 229.5h3M152 111.5h2M305 169.5h4M395 169.5h7M872 169.5h14M1087 169.5h6M1128 169.5h3M218 142.5h2M491 142.5h9M514 142.5h9M852 177.5h3M905 177.5h4M960 177.5h5M1011 177.5h21M1153 177.5h3M175 122.5h3M271 161.5h4M435 161.5h3M563 161.5h2M122 93.5h2M717 223.5h2M769 223.5h2M844 179.5h4M913 179.5h4M948 179.5h6M1159 179.5h3M321 173.5h4M363 173.5h5M861 173.5h2M893 173.5h3M1052 173.5h5M1141 173.5h4M703 215.5h2M792 215.5h3M289 166.5h5M413 166.5h6M1104 166.5h6M208 137.5h2M737 230.5h14M257 157.5h4M444 157.5h2M330 175.5h5M353 175.5h6M857 175.5h2M899 175.5h3M970 175.5h6M994 175.5h6M1039 175.5h7M1148 175.5h3M780 219.5h3M178 123.5h2M3 42.5h2M230 147.5h3M470 147.5h4M536 147.5h2M239 151.5h2M456 151.5h2M545 151.5h2M118 90.5h2M634 211.5h17M158 114.5h3M70 59.5h6M171 120.5h2M671 207.5h18M804 207.5h2M163 116.5h2M713 221.5h2M774 221.5h3M700 213.5h2M5 43.5h4M212 139.5h2M706 217.5h2M786 217.5h3M285 165.5h4M419 165.5h7M832 184.5h2M235 149.5h2M462 149.5h4M540 149.5h2M225 145.5h3M479 145.5h4M531 145.5h3M237 150.5h2M458 150.5h4M542 150.5h3M840 180.5h4M917 180.5h4M930 180.5h18M1162 180.5h3M294 167.5h6M407 167.5h6M1098 167.5h6M1110 167.5h10M727 227.5h2M758 227.5h3M167 118.5h2M196 131.5h2M220 143.5h2M487 143.5h4M523 143.5h4M630 210.5h4M651 210.5h6M695 210.5h2M65 58.5h5M222 144.5h3M483 144.5h4M527 144.5h4M9 44.5h3M189 128.5h2M92 69.5h2M278 163.5h4M431 163.5h2M566 163.5h2M838 181.5h2M921 181.5h9M1165 181.5h3M848 178.5h4M909 178.5h4M954 178.5h6M1156 178.5h3M28 49.5h4M233 148.5h2M466 148.5h4M538 148.5h2M245 154.5h2M450 154.5h2M552 154.5h2M191 129.5h3M32 50.5h4M144 107.5h2M137 103.5h2M247 155.5h4M448 155.5h2M554 155.5h2M184 126.5h3M200 133.5h2M241 152.5h2M454 152.5h2M547 152.5h2M829 186.5h2M606 195.5h2M140 105.5h2M53 55.5h4M598 191.5h2M600 192.5h2M821 192.5h2M612 198.5h2M836 182.5h2M1168 182.5h2M16 46.5h4M708 218.5h2M783 218.5h3M36 51.5h4M715 222.5h2M771 222.5h3M251 156.5h6M446 156.5h2M556 156.5h2M275 162.5h3M433 162.5h2M698 212.5h2M798 212.5h2M608 196.5h2M719 224.5h2M766 224.5h3M628 209.5h2M657 209.5h7M693 209.5h2M12 45.5h4M88 66.5h2M261 158.5h4M442 158.5h2M559 158.5h2M604 194.5h2M596 190.5h2M113 86.5h2M80 61.5h2M61 57.5h4M101 76.5h2M132 100.5h2M729 228.5h4M754 228.5h4M711 220.5h2M777 220.5h3M789 216.5h3M129 98.5h2M724 226.5h3M761 226.5h3M57 56.5h4M622 205.5h2M20 47.5h4M268 160.5h3M438 160.5h2M228 146.5h2M474 146.5h5M534 146.5h2M40 52.5h4M243 153.5h2M452 153.5h2M549 153.5h3M602 193.5h2M83 63.5h2M210 138.5h2M614 199.5h2M813 199.5h2M24 48.5h4M97 73.5h2M173 121.5h2M165 117.5h2M214 140.5h2M206 136.5h2M198 132.5h2M618 202.5h2M169 119.5h2M161 115.5h2M202 134.5h2M194 130.5h2M154 112.5h2M146 108.5h2M187 127.5h2M107 81.5h2M156 113.5h2M148 109.5h2M180 124.5h2M204 135.5h2M150 110.5h2M142 106.5h2M795 214.5h2M610 197.5h2M825 189.5h2M134 101.5h2M85 64.5h2M834 183.5h2M125 95.5h2M104.5 78v1M801.5 210v1M806.5 206v1M115.5 87v1M105.5 79v1M594.5 188v1M616.5 200v1M589.5 183v1M585.5 179v1M595.5 189v1M710.5 219v1M574.5 169v1M591.5 185v1M561.5 159v1M705.5 216v1M592.5 186v1M820.5 193v1M593.5 187v1M824.5 190v1M91.5 68v1M572.5 167v1M828.5 187v1M811.5 201v1M116.5 88v1M812.5 200v1M117.5 89v1M136.5 102v1M617.5 201v1M124.5 94v1M99.5 74v1M624.5 206v1M803.5 208v1M578.5 172v1M131.5 99v1M100.5 75v1M111.5 84v1M562.5 160v1M87.5 65v1M625.5 207v1M94.5 70v1M818.5 195v1M819.5 194v1M82.5 62v1M816.5 197v1M817.5 196v1M109.5 82v1M120.5 91v1M110.5 83v1M815.5 198v1M620.5 203v1M810.5 202v1M127.5 96v1M582.5 176v1M702.5 214v1M570.5 165v1M808.5 204v1M809.5 203v1M797.5 213v1M583.5 177v1M558.5 157v1M807.5 205v1M579.5 173v1M697.5 211v1M802.5 209v1M565.5 162v1M112.5 85v1M800.5 211v1M584.5 178v1M823.5 191v1M580.5 174v1M573.5 168v1M590.5 184v1M95.5 71v1M106.5 80v1M586.5 180v1M827.5 188v1M581.5 175v1M96.5 72v1M139.5 104v1M831.5 185v1M103.5 77v1M121.5 92v1M621.5 204v1M587.5 181v1M575.5 170v1M128.5 97v1M90.5 67v1M571.5 166v1M588.5 182v1" fill="none" stroke="#0000cd" stroke-width="1"/>
<rect x="3" y="47" width="1484" height="2" fill="#ff0000" />
<rect x="3" y="108" width="1484" height="2" fill="#ff0000" />
<rect x="3" y="182" width="1484" height="2" fill="#00ff00" />
<rect x="3" y="253" width="1484" height="2" fill="#0000ff" />
<rect x="3" y="329" width="1484" height="2" fill="#0000ff" />
</g>
<rect x="2" y="45" width="6" height="6" fill="#ff0000" />
<rect x="4" y="47" width="2" height="2" fill="#fff" />
<rect x="1481" y="45" width="6" height="6" fill="#ff0000" />
<rect x="1483" y="47" width="2" height="2" fill="#fff" />
<rect x="2" y="106" width="6" height="6" fill="#ff0000" />
<rect x="4" y="108" width="2" height="2" fill="#fff" />
<rect x="1481" y="106" width="6" height="6" fill="#ff0000" />
<rect x="1483" y="108" width="2" height="2" fill="#fff" />
<rect x="2" y="180" width="6" height="6" fill="#00ff00" />
<rect x="4" y="182" width="2" height="2" fill="#fff" />
<rect x="1481" y="180" width="6" height="6" fill="#00ff00" />
<rect x="1483" y="182" width="2" height="2" fill="#fff" />
<rect x="2" y="251" width="6" height="6" fill="#0000ff" />
<rect x="4" y="253" width="2" height="2" fill="#fff" />
<rect x="1481" y="251" width="6" height="6" fill="#0000ff" />
<rect x="1483" y="253" width="2" height="2" fill="#fff" />
<rect x="2" y="327" width="6" height="6" fill="#0000ff" />
<rect x="4" y="329" width="2" height="2" fill="#fff" />
<rect x="1481" y="327" width="6" height="6" fill="#0000ff" />
<rect x="1483" y="329" width="2" height="2" fill="#fff" />
<polygon points="1183,27 1194,27 1188.5,32.5" fill="#c0c0c0" shape-rendering="auto"/>
<polygon points="6,33 13,33 9.5,37" fill="#000" shape-rendering="auto"/>
<text x="18.2" y="38" font-size="10" fill="#000" stroke="#000" stroke-width="0.18" textLength="64" lengthAdjust="spacingAndGlyphs" >USDCHF,Daily</text>
<text x="89.6" y="38" font-size="10" fill="#000" stroke="#000" stroke-width="0.18" textLength="140" lengthAdjust="spacingAndGlyphs" >0.96218 0.96289 0.96089 0.96111</text>
<rect x="1488" y="37" width="2" height="1" fill="#000" />
<text x="1493.3" y="41" font-size="10" fill="#000" stroke="#000" stroke-width="0.18" textLength="32" lengthAdjust="spacingAndGlyphs" >0.99190</text>
<rect x="1488" y="70" width="2" height="1" fill="#000" />
<text x="1493.3" y="74" font-size="10" fill="#000" stroke="#000" stroke-width="0.18" textLength="32" lengthAdjust="spacingAndGlyphs" >0.98650</text>
<rect x="1488" y="103" width="2" height="1" fill="#000" />
<text x="1493.3" y="107" font-size="10" fill="#000" stroke="#000" stroke-width="0.18" textLength="32" lengthAdjust="spacingAndGlyphs" >0.98110</text>
<rect x="1488" y="136" width="2" height="1" fill="#000" />
<text x="1493.3" y="140" font-size="10" fill="#000" stroke="#000" stroke-width="0.18" textLength="32" lengthAdjust="spacingAndGlyphs" >0.97570</text>
<rect x="1488" y="169" width="2" height="1" fill="#000" />
<text x="1493.3" y="173" font-size="10" fill="#000" stroke="#000" stroke-width="0.18" textLength="32" lengthAdjust="spacingAndGlyphs" >0.97045</text>
<rect x="1488" y="202" width="2" height="1" fill="#000" />
<text x="1493.3" y="206" font-size="10" fill="#000" stroke="#000" stroke-width="0.18" textLength="32" lengthAdjust="spacingAndGlyphs" >0.96505</text>
<rect x="1488" y="235" width="2" height="1" fill="#000" />
<text x="1493.3" y="239" font-size="10" fill="#000" stroke="#000" stroke-width="0.18" textLength="32" lengthAdjust="spacingAndGlyphs" >0.95965</text>
<rect x="1488" y="268" width="2" height="1" fill="#000" />
<text x="1493.3" y="272" font-size="10" fill="#000" stroke="#000" stroke-width="0.18" textLength="32" lengthAdjust="spacingAndGlyphs" >0.95425</text>
<rect x="1488" y="301" width="2" height="1" fill="#000" />
<text x="1493.3" y="305" font-size="10" fill="#000" stroke="#000" stroke-width="0.18" textLength="32" lengthAdjust="spacingAndGlyphs" >0.94885</text>
<rect x="1488" y="334" width="2" height="1" fill="#000" />
<text x="1493.3" y="338" font-size="10" fill="#000" stroke="#000" stroke-width="0.18" textLength="32" lengthAdjust="spacingAndGlyphs" >0.94360</text>
<rect x="1488" y="367" width="2" height="1" fill="#000" />
<text x="1493.3" y="371" font-size="10" fill="#000" stroke="#000" stroke-width="0.18" textLength="32" lengthAdjust="spacingAndGlyphs" >0.93820</text>
<rect x="1488" y="400" width="2" height="1" fill="#000" />
<text x="1493.3" y="404" font-size="10" fill="#000" stroke="#000" stroke-width="0.18" textLength="32" lengthAdjust="spacingAndGlyphs" >0.93280</text>
<rect x="1488" y="433" width="2" height="1" fill="#000" />
<text x="1493.3" y="437" font-size="10" fill="#000" stroke="#000" stroke-width="0.18" textLength="32" lengthAdjust="spacingAndGlyphs" >0.92740</text>
<rect x="1488" y="466" width="2" height="1" fill="#000" />
<text x="1493.3" y="470" font-size="10" fill="#000" stroke="#000" stroke-width="0.18" textLength="32" lengthAdjust="spacingAndGlyphs" >0.92200</text>
<rect x="1488" y="499" width="2" height="1" fill="#000" />
<text x="1493.3" y="503" font-size="10" fill="#000" stroke="#000" stroke-width="0.18" textLength="32" lengthAdjust="spacingAndGlyphs" >0.91675</text>
<rect x="1489" y="42" width="40" height="11" fill="#ff0000" />
<text x="1493.3" y="51" font-size="10" fill="#fff" stroke="#fff" stroke-width="0.18" textLength="32" lengthAdjust="spacingAndGlyphs" >0.99007</text>
<rect x="1489" y="103" width="40" height="11" fill="#ff0000" />
<text x="1493.3" y="112" font-size="10" fill="#fff" stroke="#fff" stroke-width="0.18" textLength="32" lengthAdjust="spacingAndGlyphs" >0.98010</text>
<rect x="1489" y="177" width="40" height="11" fill="#00ff00" />
<text x="1493.3" y="186" font-size="10" fill="#fff" stroke="#fff" stroke-width="0.18" textLength="32" lengthAdjust="spacingAndGlyphs" >0.96803</text>
<rect x="1489" y="248" width="40" height="11" fill="#0000ff" />
<text x="1493.3" y="257" font-size="10" fill="#fff" stroke="#fff" stroke-width="0.18" textLength="32" lengthAdjust="spacingAndGlyphs" >0.95658</text>
<rect x="1489" y="324" width="40" height="11" fill="#0000ff" />
<text x="1493.3" y="333" font-size="10" fill="#fff" stroke="#fff" stroke-width="0.18" textLength="32" lengthAdjust="spacingAndGlyphs" >0.94414</text>
<rect x="1489" y="221" width="40" height="11" fill="#000" />
<text x="1493.3" y="230" font-size="10" fill="#fff" stroke="#fff" stroke-width="0.18" textLength="32" lengthAdjust="spacingAndGlyphs" >0.96111</text>
<line x1="4" y1="531.5" x2="1487" y2="531.5" stroke="#c0c0c0" stroke-width="1" stroke-dasharray="3,3"/>
<line x1="4" y1="565.5" x2="1487" y2="565.5" stroke="#c0c0c0" stroke-width="1" stroke-dasharray="3,3"/>
<path d="M305 544.5h3M359 544.5h3M467 544.5h2M750 544.5h2M773 544.5h2M885 544.5h4M975 544.5h13M425 534.5h14M445 534.5h2M455 534.5h3M657 534.5h6M668 534.5h2M369 541.5h6M399 541.5h6M640 541.5h2M689 541.5h3M897 541.5h20M10 563.5h3M26 563.5h2M85 563.5h4M128 563.5h2M146 563.5h2M210 563.5h3M519 563.5h3M362 543.5h3M636 543.5h2M752 543.5h2M759 543.5h14M889 543.5h4M921 543.5h11M37 556.5h4M47 556.5h6M72 556.5h2M168 556.5h2M191 556.5h3M237 556.5h2M249 556.5h3M336 556.5h2M945 556.5h2M949 556.5h4M1137 556.5h14M1157 556.5h4M1167 556.5h5M35 557.5h2M53 557.5h4M70 557.5h2M155 557.5h2M166 557.5h2M194 557.5h3M227 557.5h10M321 557.5h2M334 557.5h2M947 557.5h2M1151 557.5h6M347 549.5h2M730 549.5h5M792 549.5h2M813 549.5h4M820 549.5h2M836 549.5h2M850 549.5h5M1016 549.5h2M1021 549.5h4M1083 549.5h2M1108 549.5h2M98 568.5h13M117 568.5h2M530 568.5h2M41 555.5h6M74 555.5h2M170 555.5h3M189 555.5h2M239 555.5h3M245 555.5h4M252 555.5h2M338 555.5h2M625 555.5h2M711 555.5h6M953 555.5h4M1133 555.5h4M1161 555.5h6M63 559.5h5M79 559.5h2M138 559.5h2M161 559.5h3M199 559.5h3M327 559.5h5M507 559.5h2M567 580.5h8M580 580.5h2M301 545.5h4M357 545.5h2M469 545.5h4M748 545.5h2M775 545.5h3M879 545.5h6M971 545.5h4M988 545.5h2M549 574.5h2M33 558.5h2M57 558.5h6M68 558.5h2M153 558.5h2M157 558.5h4M164 558.5h2M197 558.5h2M323 558.5h4M332 558.5h2M299 546.5h2M354 546.5h3M473 546.5h12M745 546.5h3M778 546.5h10M842 546.5h3M873 546.5h6M990 546.5h2M1009 546.5h3M1033 546.5h20M1065 546.5h3M1090 546.5h11M274 550.5h11M293 550.5h2M345 550.5h2M617 550.5h3M700 550.5h2M727 550.5h3M794 550.5h19M834 550.5h2M1018 550.5h3M1081 550.5h2M1110 550.5h2M1121 550.5h3M297 547.5h2M351 547.5h3M485 547.5h4M741 547.5h4M788 547.5h2M840 547.5h2M845 547.5h2M869 547.5h4M992 547.5h2M1005 547.5h4M1012 547.5h2M1029 547.5h4M1053 547.5h4M1061 547.5h4M1087 547.5h3M1101 547.5h4M177 553.5h6M256 553.5h2M263 553.5h6M341 553.5h2M705 553.5h2M719 553.5h3M827 553.5h2M941 553.5h2M959 553.5h3M1076 553.5h2M1128 553.5h2M349 548.5h2M489 548.5h11M735 548.5h6M790 548.5h2M817 548.5h3M838 548.5h2M847 548.5h3M855 548.5h14M967 548.5h2M994 548.5h11M1014 548.5h2M1025 548.5h4M1057 548.5h4M1085 548.5h2M1105 548.5h3M173 554.5h4M183 554.5h6M242 554.5h3M254 554.5h2M317 554.5h2M707 554.5h4M717 554.5h2M957 554.5h2M1130 554.5h3M375 540.5h24M405 540.5h4M642 540.5h2M685 540.5h4M418 536.5h3M650 536.5h3M671 536.5h2M409 539.5h4M644 539.5h2M679 539.5h6M6 561.5h2M15 561.5h3M21 561.5h2M29 561.5h2M133 561.5h2M142 561.5h2M149 561.5h2M205 561.5h2M513 561.5h4M413 538.5h2M646 538.5h2M675 538.5h4M543 573.5h6M365 542.5h4M638 542.5h2M754 542.5h5M893 542.5h4M917 542.5h4M4 560.5h2M18 560.5h3M135 560.5h3M140 560.5h2M202 560.5h3M509 560.5h4M111 569.5h6M532 569.5h2M575 581.5h5M92 565.5h2M124 565.5h2M217 565.5h3M524 565.5h2M258 552.5h5M269 552.5h2M289 552.5h3M603 552.5h10M621 552.5h2M703 552.5h2M722 552.5h3M825 552.5h2M829 552.5h2M962 552.5h2M1114 552.5h3M1126 552.5h2M271 551.5h3M285 551.5h4M613 551.5h4M725 551.5h2M823 551.5h2M831 551.5h3M1079 551.5h2M1112 551.5h2M1117 551.5h4M1124 551.5h2M447 533.5h3M453 533.5h2M663 533.5h5M96 567.5h2M119 567.5h3M528 567.5h2M557 577.5h2M586 577.5h2M562 579.5h5M582 579.5h2M551 575.5h3M421 535.5h4M439 535.5h6M458 535.5h2M653 535.5h4M415 537.5h3M648 537.5h2M673 537.5h2M8 562.5h2M13 562.5h2M23 562.5h3M83 562.5h2M130 562.5h3M144 562.5h2M207 562.5h3M517 562.5h2M554 576.5h3M450 532.5h3M536 571.5h2M559 578.5h3M584 578.5h2M538 572.5h5M534 570.5h2M94 566.5h2M122 566.5h2M526 566.5h2M89 564.5h3M126 564.5h2M213 564.5h4M522 564.5h2M822.5 550v1M343.5 552v1M460.5 536v1M3.5 559v1M1072.5 551v1M600.5 558v2M601.5 556v2M506.5 557v2M81.5 560v1M1073.5 552v1M1074.5 553v1M1069.5 548v1M503.5 553v2M624.5 554v1M500.5 549v2M82.5 561v1M597.5 564v2M463.5 539v2M599.5 560v2M943.5 554v1M634.5 545v2M932.5 544v1M504.5 555v1M319.5 555v1M632.5 548v2M970.5 546v1M630.5 551v2M694.5 544v1M944.5 555v1M320.5 556v1M937.5 549v1M593.5 571v1M595.5 568v2M964.5 551v1M596.5 566v2M933.5 545v1M702.5 551v1M695.5 545v1M225.5 559v1M591.5 573v1M592.5 572v1M934.5 546v1M628.5 554v2M620.5 551v1M292.5 551v1M314.5 551v1M223.5 561v1M224.5 560v1M590.5 574v1M310.5 547v1M696.5 546v1M222.5 562v1M502.5 552v1M692.5 542v1M465.5 542v1M935.5 547v1M340.5 554v1M598.5 562v2M589.5 575v1M631.5 550v1M295.5 549v1M633.5 547v1M28.5 562v1M76.5 556v1M693.5 543v1M31.5 560v1M466.5 543v1M965.5 550v1M1078.5 552v1M312.5 549v1M698.5 548v1M505.5 556v1M699.5 549v1M308.5 545v1M226.5 558v1M969.5 547v1M938.5 550v1M309.5 546v1M602.5 554v2M78.5 558v1M939.5 551v1M603.5 553v1M315.5 552v1M464.5 541v1M296.5 548v1M627.5 556v1M344.5 551v1M311.5 548v1M697.5 547v1M588.5 576v1M940.5 552v1M316.5 553v1M32.5 559v1M936.5 548v1M220.5 564v1M635.5 544v1M594.5 570v1M77.5 557v1M148.5 562v1M1068.5 547v1M313.5 550v1M461.5 537v1M623.5 553v1M152.5 559v1M462.5 538v1M501.5 551v1M151.5 560v1M1070.5 549v1M1075.5 554v1M629.5 553v1M1071.5 550v1M221.5 563v1M966.5 549v1M670.5 535v1" fill="none" stroke="#1e90ff" stroke-width="1"/>
<text x="7" y="517" font-size="10" fill="#000" stroke="#000" stroke-width="0.18" textLength="68" lengthAdjust="spacingAndGlyphs" >RSI(14) 40.1137</text>
<text x="1491" y="515" font-size="10" fill="#000" stroke="#000" stroke-width="0.18" textLength="15.600000000000001" lengthAdjust="spacingAndGlyphs" >100</text>
<text x="1491" y="535" font-size="10" fill="#000" stroke="#000" stroke-width="0.18" textLength="10.4" lengthAdjust="spacingAndGlyphs" >70</text>
<text x="1491" y="569" font-size="10" fill="#000" stroke="#000" stroke-width="0.18" textLength="10.4" lengthAdjust="spacingAndGlyphs" >30</text>
<text x="1491" y="588" font-size="10" fill="#000" stroke="#000" stroke-width="0.18" textLength="5.2" lengthAdjust="spacingAndGlyphs" >0</text>
<rect x="3" y="623" width="1" height="11" fill="#c0c0c0" />
<rect x="11" y="623" width="1" height="13" fill="#c0c0c0" />
<rect x="19" y="623" width="1" height="14" fill="#c0c0c0" />
<rect x="27" y="623" width="1" height="16" fill="#c0c0c0" />
<rect x="35" y="623" width="1" height="15" fill="#c0c0c0" />
<rect x="43" y="623" width="1" height="14" fill="#c0c0c0" />
<rect x="51" y="623" width="1" height="13" fill="#c0c0c0" />
<rect x="59" y="623" width="1" height="14" fill="#c0c0c0" />
<rect x="67" y="623" width="1" height="14" fill="#c0c0c0" />
<rect x="75" y="623" width="1" height="14" fill="#c0c0c0" />
<rect x="83" y="623" width="1" height="15" fill="#c0c0c0" />
<rect x="91" y="623" width="1" height="17" fill="#c0c0c0" />
<rect x="99" y="623" width="1" height="20" fill="#c0c0c0" />
<rect x="107" y="623" width="1" height="23" fill="#c0c0c0" />
<rect x="115" y="623" width="1" height="24" fill="#c0c0c0" />
<rect x="123" y="623" width="1" height="25" fill="#c0c0c0" />
<rect x="131" y="623" width="1" height="25" fill="#c0c0c0" />
<rect x="139" y="623" width="1" height="23" fill="#c0c0c0" />
<rect x="147" y="623" width="1" height="23" fill="#c0c0c0" />
<rect x="155" y="623" width="1" height="22" fill="#c0c0c0" />
<rect x="163" y="623" width="1" height="21" fill="#c0c0c0" />
<rect x="171" y="623" width="1" height="20" fill="#c0c0c0" />
<rect x="179" y="623" width="1" height="18" fill="#c0c0c0" />
<rect x="187" y="623" width="1" height="17" fill="#c0c0c0" />
<rect x="195" y="623" width="1" height="16" fill="#c0c0c0" />
<rect x="203" y="623" width="1" height="16" fill="#c0c0c0" />
<rect x="211" y="623" width="1" height="17" fill="#c0c0c0" />
<rect x="219" y="623" width="1" height="18" fill="#c0c0c0" />
<rect x="227" y="623" width="1" height="18" fill="#c0c0c0" />
<rect x="235" y="623" width="1" height="17" fill="#c0c0c0" />
<rect x="243" y="623" width="1" height="16" fill="#c0c0c0" />
<rect x="251" y="623" width="1" height="15" fill="#c0c0c0" />
<rect x="259" y="623" width="1" height="14" fill="#c0c0c0" />
<rect x="267" y="623" width="1" height="13" fill="#c0c0c0" />
<rect x="275" y="623" width="1" height="11" fill="#c0c0c0" />
<rect x="283" y="623" width="1" height="10" fill="#c0c0c0" />
<rect x="291" y="623" width="1" height="8" fill="#c0c0c0" />
<rect x="299" y="623" width="1" height="6" fill="#c0c0c0" />
<rect x="307" y="623" width="1" height="4" fill="#c0c0c0" />
<rect x="315" y="623" width="1" height="4" fill="#c0c0c0" />
<rect x="323" y="623" width="1" height="6" fill="#c0c0c0" />
<rect x="331" y="623" width="1" height="8" fill="#c0c0c0" />
<rect x="339" y="623" width="1" height="8" fill="#c0c0c0" />
<rect x="347" y="623" width="1" height="7" fill="#c0c0c0" />
<rect x="355" y="623" width="1" height="5" fill="#c0c0c0" />
<rect x="363" y="623" width="1" height="3" fill="#c0c0c0" />
<rect x="379" y="622" width="1" height="2" fill="#c0c0c0" />
<rect x="387" y="620" width="1" height="4" fill="#c0c0c0" />
<rect x="395" y="619" width="1" height="5" fill="#c0c0c0" />
<rect x="403" y="618" width="1" height="6" fill="#c0c0c0" />
<rect x="411" y="616" width="1" height="8" fill="#c0c0c0" />
<rect x="419" y="614" width="1" height="10" fill="#c0c0c0" />
<rect x="427" y="613" width="1" height="11" fill="#c0c0c0" />
<rect x="435" y="611" width="1" height="13" fill="#c0c0c0" />
<rect x="443" y="611" width="1" height="13" fill="#c0c0c0" />
<rect x="451" y="610" width="1" height="14" fill="#c0c0c0" />
<rect x="459" y="609" width="1" height="15" fill="#c0c0c0" />
<rect x="467" y="612" width="1" height="12" fill="#c0c0c0" />
<rect x="475" y="612" width="1" height="12" fill="#c0c0c0" />
<rect x="483" y="614" width="1" height="10" fill="#c0c0c0" />
<rect x="491" y="615" width="1" height="9" fill="#c0c0c0" />
<rect x="499" y="616" width="1" height="8" fill="#c0c0c0" />
<rect x="507" y="620" width="1" height="4" fill="#c0c0c0" />
<rect x="523" y="623" width="1" height="4" fill="#c0c0c0" />
<rect x="531" y="623" width="1" height="9" fill="#c0c0c0" />
<rect x="539" y="623" width="1" height="14" fill="#c0c0c0" />
<rect x="547" y="623" width="1" height="19" fill="#c0c0c0" />
<rect x="555" y="623" width="1" height="24" fill="#c0c0c0" />
<rect x="563" y="623" width="1" height="33" fill="#c0c0c0" />
<rect x="571" y="623" width="1" height="39" fill="#c0c0c0" />
<rect x="579" y="623" width="1" height="47" fill="#c0c0c0" />
<rect x="587" y="623" width="1" height="51" fill="#c0c0c0" />
<rect x="595" y="623" width="1" height="52" fill="#c0c0c0" />
<rect x="603" y="623" width="1" height="45" fill="#c0c0c0" />
<rect x="611" y="623" width="1" height="39" fill="#c0c0c0" />
<rect x="619" y="623" width="1" height="35" fill="#c0c0c0" />
<rect x="627" y="623" width="1" height="34" fill="#c0c0c0" />
<rect x="635" y="623" width="1" height="25" fill="#c0c0c0" />
<rect x="643" y="623" width="1" height="16" fill="#c0c0c0" />
<rect x="651" y="623" width="1" height="3" fill="#c0c0c0" />
<rect x="659" y="616" width="1" height="8" fill="#c0c0c0" />
<rect x="667" y="607" width="1" height="17" fill="#c0c0c0" />
<rect x="675" y="603" width="1" height="21" fill="#c0c0c0" />
<rect x="683" y="600" width="1" height="24" fill="#c0c0c0" />
<rect x="691" y="599" width="1" height="25" fill="#c0c0c0" />
<rect x="699" y="604" width="1" height="20" fill="#c0c0c0" />
<rect x="707" y="611" width="1" height="13" fill="#c0c0c0" />
<rect x="715" y="619" width="1" height="5" fill="#c0c0c0" />
<rect x="723" y="622" width="1" height="2" fill="#c0c0c0" />
<rect x="731" y="623" width="1" height="1" fill="#c0c0c0" />
<rect x="739" y="622" width="1" height="2" fill="#c0c0c0" />
<rect x="747" y="619" width="1" height="5" fill="#c0c0c0" />
<rect x="755" y="616" width="1" height="8" fill="#c0c0c0" />
<rect x="763" y="613" width="1" height="11" fill="#c0c0c0" />
<rect x="771" y="611" width="1" height="13" fill="#c0c0c0" />
<rect x="779" y="612" width="1" height="12" fill="#c0c0c0" />
<rect x="787" y="613" width="1" height="11" fill="#c0c0c0" />
<rect x="795" y="616" width="1" height="8" fill="#c0c0c0" />
<rect x="803" y="618" width="1" height="6" fill="#c0c0c0" />
<rect x="811" y="620" width="1" height="4" fill="#c0c0c0" />
<rect x="819" y="621" width="1" height="3" fill="#c0c0c0" />
<rect x="835" y="623" width="1" height="1" fill="#c0c0c0" />
<rect x="875" y="622" width="1" height="2" fill="#c0c0c0" />
<rect x="883" y="622" width="1" height="2" fill="#c0c0c0" />
<rect x="891" y="620" width="1" height="4" fill="#c0c0c0" />
<rect x="899" y="618" width="1" height="6" fill="#c0c0c0" />
<rect x="907" y="616" width="1" height="8" fill="#c0c0c0" />
<rect x="915" y="615" width="1" height="9" fill="#c0c0c0" />
<rect x="923" y="614" width="1" height="10" fill="#c0c0c0" />
<rect x="931" y="614" width="1" height="10" fill="#c0c0c0" />
<rect x="939" y="618" width="1" height="6" fill="#c0c0c0" />
<rect x="947" y="622" width="1" height="2" fill="#c0c0c0" />
<rect x="955" y="623" width="1" height="1" fill="#c0c0c0" />
<rect x="963" y="623" width="1" height="2" fill="#c0c0c0" />
<rect x="979" y="622" width="1" height="2" fill="#c0c0c0" />
<rect x="987" y="620" width="1" height="4" fill="#c0c0c0" />
<rect x="995" y="620" width="1" height="4" fill="#c0c0c0" />
<rect x="1003" y="620" width="1" height="4" fill="#c0c0c0" />
<rect x="1011" y="621" width="1" height="3" fill="#c0c0c0" />
<rect x="1019" y="622" width="1" height="2" fill="#c0c0c0" />
<rect x="1027" y="622" width="1" height="2" fill="#c0c0c0" />
<rect x="1035" y="622" width="1" height="2" fill="#c0c0c0" />
<rect x="1043" y="620" width="1" height="4" fill="#c0c0c0" />
<rect x="1051" y="620" width="1" height="4" fill="#c0c0c0" />
<rect x="1059" y="620" width="1" height="4" fill="#c0c0c0" />
<rect x="1067" y="620" width="1" height="4" fill="#c0c0c0" />
<rect x="1075" y="622" width="1" height="2" fill="#c0c0c0" />
<rect x="1083" y="622" width="1" height="2" fill="#c0c0c0" />
<rect x="1091" y="622" width="1" height="2" fill="#c0c0c0" />
<rect x="1099" y="622" width="1" height="2" fill="#c0c0c0" />
<rect x="1107" y="622" width="1" height="2" fill="#c0c0c0" />
<rect x="1115" y="623" width="1" height="1" fill="#c0c0c0" />
<rect x="1123" y="623" width="1" height="1" fill="#c0c0c0" />
<rect x="1131" y="623" width="1" height="2" fill="#c0c0c0" />
<rect x="1139" y="623" width="1" height="4" fill="#c0c0c0" />
<rect x="1147" y="623" width="1" height="6" fill="#c0c0c0" />
<rect x="1155" y="623" width="1" height="7" fill="#c0c0c0" />
<rect x="1163" y="623" width="1" height="8" fill="#c0c0c0" />
<rect x="1171" y="623" width="1" height="9" fill="#c0c0c0" />
<path d="M135 644.5h2M195 644.5h3M627 665.5h3M447 614.5h3M453 614.5h2M513 614.5h3M700 614.5h2M807 614.5h3M813 614.5h3M819 614.5h3M111 640.5h2M243 640.5h3M249 640.5h3M255 640.5h3M261 640.5h2M573 640.5h2M393 626.5h3M549 626.5h2M1161 626.5h3M525 616.5h2M759 616.5h3M765 616.5h3M771 616.5h3M777 616.5h3M783 616.5h3M789 616.5h2M831 616.5h2M945 616.5h3M3 629.5h2M369 629.5h3M375 629.5h3M556 629.5h2M465 612.5h3M471 612.5h3M477 612.5h3M483 612.5h3M489 612.5h3M495 612.5h3M501 612.5h3M507 612.5h2M747 612.5h2M418 620.5h2M849 620.5h3M855 620.5h3M915 620.5h3M921 620.5h3M999 620.5h3M1035 620.5h3M1041 620.5h3M1047 620.5h3M1053 620.5h3M1059 620.5h3M1065 620.5h3M1071 620.5h3M1077 620.5h3M1083 620.5h3M1089 620.5h3M1095 620.5h3M1101 620.5h3M1107 620.5h3M153 646.5h3M159 646.5h3M165 646.5h3M171 646.5h3M177 646.5h3M57 637.5h3M63 637.5h3M69 637.5h3M75 637.5h3M291 637.5h2M15 632.5h3M21 632.5h2M321 632.5h3M327 632.5h3M333 632.5h2M561 632.5h2M87 639.5h3M93 639.5h3M99 639.5h3M105 639.5h3M267 639.5h3M273 639.5h3M459 613.5h3M441 615.5h3M519 615.5h3M754 615.5h2M795 615.5h3M801 615.5h3M825 615.5h3M33 634.5h3M309 634.5h3M123 642.5h3M207 642.5h3M213 642.5h2M423 619.5h2M532 619.5h2M927 619.5h2M975 619.5h3M981 619.5h3M987 619.5h3M993 619.5h3M117 641.5h2M219 641.5h3M225 641.5h3M231 641.5h3M237 641.5h2M538 622.5h2M867 622.5h3M873 622.5h3M879 622.5h3M885 622.5h3M891 622.5h3M897 622.5h3M903 622.5h3M1011 622.5h3M1017 622.5h3M1023 622.5h3M1131 622.5h3M141 645.5h3M147 645.5h3M183 645.5h3M189 645.5h2M387 627.5h3M1167 627.5h3M861 621.5h3M909 621.5h3M1005 621.5h3M1029 621.5h3M1113 621.5h3M1119 621.5h3M1125 621.5h2M9 631.5h3M339 631.5h3M345 631.5h3M351 631.5h3M357 631.5h2M585 649.5h2M435 617.5h2M837 617.5h2M951 617.5h3M957 617.5h3M963 617.5h3M429 618.5h2M843 618.5h2M933 618.5h3M939 618.5h2M969 618.5h3M39 635.5h2M297 635.5h3M303 635.5h3M399 625.5h2M1155 625.5h3M363 630.5h3M405 624.5h2M543 624.5h3M1143 624.5h3M1149 624.5h2M129 643.5h3M201 643.5h3M45 636.5h3M51 636.5h3M567 636.5h2M81 638.5h3M279 638.5h3M285 638.5h2M615 664.5h3M621 664.5h2M633 664.5h3M27 633.5h3M315 633.5h3M610 663.5h2M639 663.5h2M717 609.5h2M729 609.5h3M723 608.5h3M381 628.5h3M591 653.5h2M411 623.5h2M1137 623.5h3M658 651.5h2M711 610.5h2M735 610.5h2M706 611.5h2M741 611.5h2M604 660.5h2M598 657.5h2M652 654.5h2M551.5 627v1M455.5 613v1M437.5 616v1M713.5 609v1M671.5 639v1M749.5 613v1M575.5 641v1M737.5 611v1M669.5 641v1M670.5 640v1M41.5 636v1M603.5 659v1M263.5 639v1M191.5 644v1M839.5 618v1M137.5 645v1M665.5 645v1M413.5 622v1M119.5 642v1M359.5 630v1M753.5 614v1M239.5 640v1M694.5 619v1M683.5 628v1M287.5 637v1M335.5 631v1M509.5 613v1M682.5 629v1M417.5 621v1M555.5 628v1M941.5 617v1M845.5 619v1M531.5 618v1M929.5 618v1M647.5 658v1M293.5 636v1M645.5 660v1M646.5 659v1M651.5 655v1M695.5 618v1M657.5 652v1M579.5 644v1M699.5 615v1M641.5 662v1M688.5 624v1M689.5 623v1M431.5 617v1M743.5 612v1M687.5 625v1M693.5 620v1M676.5 634v1M677.5 633v1M580.5 645v1M705.5 612v1M5.5 630v1M1151.5 625v1M675.5 635v1M215.5 641v1M401.5 624v1M587.5 650v1M581.5 646v1M609.5 662v1M425.5 618v1M833.5 617v1M537.5 621v1M664.5 646v1M569.5 637v1M113.5 641v1M663.5 647v1M597.5 656v1M563.5 633v1M623.5 665v1M407.5 623v1M791.5 615v1M719.5 608v1M681.5 630v1M23.5 633v1M1127.5 622v1M527.5 617v1M593.5 654v1" fill="none" stroke="#ff0000" stroke-width="1"/>
<text x="7" y="606" font-size="10" fill="#000" stroke="#000" stroke-width="0.18" textLength="154" lengthAdjust="spacingAndGlyphs" >MACD(12,26,9) -0.002191 -0.000929</text>
<text x="1491" y="604" font-size="10" fill="#000" stroke="#000" stroke-width="0.18" textLength="38" lengthAdjust="spacingAndGlyphs" >0.005818</text>
<text x="1491" y="627" font-size="10" fill="#000" stroke="#000" stroke-width="0.18" textLength="19" lengthAdjust="spacingAndGlyphs" >0.00</text>
<text x="1491" y="676" font-size="10" fill="#000" stroke="#000" stroke-width="0.18" textLength="41" lengthAdjust="spacingAndGlyphs" >-0.011514</text>
<rect x="3" y="680" width="1" height="3" fill="#000" />
<text x="2" y="692" font-size="10" fill="#000" stroke="#000" stroke-width="0.18" textLength="51" lengthAdjust="spacingAndGlyphs" >16 Dec 2019</text>
<rect x="67" y="680" width="1" height="3" fill="#000" />
<text x="66" y="692" font-size="10" fill="#000" stroke="#000" stroke-width="0.18" textLength="51" lengthAdjust="spacingAndGlyphs" >25 Dec 2019</text>
<rect x="131" y="680" width="1" height="3" fill="#000" />
<text x="130" y="692" font-size="10" fill="#000" stroke="#000" stroke-width="0.18" textLength="43.5" lengthAdjust="spacingAndGlyphs" >3 Jan 2020</text>
<rect x="195" y="680" width="1" height="3" fill="#000" />
<text x="194" y="692" font-size="10" fill="#000" stroke="#000" stroke-width="0.18" textLength="48.8" lengthAdjust="spacingAndGlyphs" >13 Jan 2020</text>
<rect x="259" y="680" width="1" height="3" fill="#000" />
<text x="258" y="692" font-size="10" fill="#000" stroke="#000" stroke-width="0.18" textLength="48.8" lengthAdjust="spacingAndGlyphs" >22 Jan 2020</text>
<rect x="323" y="680" width="1" height="3" fill="#000" />
<text x="322" y="692" font-size="10" fill="#000" stroke="#000" stroke-width="0.18" textLength="48.8" lengthAdjust="spacingAndGlyphs" >31 Jan 2020</text>
<rect x="387" y="680" width="1" height="3" fill="#000" />
<text x="386" y="692" font-size="10" fill="#000" stroke="#000" stroke-width="0.18" textLength="50.3" lengthAdjust="spacingAndGlyphs" >10 Feb 2020</text>
<rect x="451" y="680" width="1" height="3" fill="#000" />
<text x="450" y="692" font-size="10" fill="#000" stroke="#000" stroke-width="0.18" textLength="50.3" lengthAdjust="spacingAndGlyphs" >19 Feb 2020</text>
<rect x="515" y="680" width="1" height="3" fill="#000" />
<text x="514" y="692" font-size="10" fill="#000" stroke="#000" stroke-width="0.18" textLength="50.3" lengthAdjust="spacingAndGlyphs" >28 Feb 2020</text>
<rect x="579" y="680" width="1" height="3" fill="#000" />
<text x="578" y="692" font-size="10" fill="#000" stroke="#000" stroke-width="0.18" textLength="46.7" lengthAdjust="spacingAndGlyphs" >9 Mar 2020</text>
<rect x="643" y="680" width="1" height="3" fill="#000" />
<text x="642" y="692" font-size="10" fill="#000" stroke="#000" stroke-width="0.18" textLength="51.2" lengthAdjust="spacingAndGlyphs" >18 Mar 2020</text>
<rect x="707" y="680" width="1" height="3" fill="#000" />
<text x="706" y="692" font-size="10" fill="#000" stroke="#000" stroke-width="0.18" textLength="51.2" lengthAdjust="spacingAndGlyphs" >27 Mar 2020</text>
<rect x="771" y="680" width="1" height="3" fill="#000" />
<text x="770" y="692" font-size="10" fill="#000" stroke="#000" stroke-width="0.18" textLength="44.4" lengthAdjust="spacingAndGlyphs" >6 Apr 2020</text>
<rect x="835" y="680" width="1" height="3" fill="#000" />
<text x="834" y="692" font-size="10" fill="#000" stroke="#000" stroke-width="0.18" textLength="50.4" lengthAdjust="spacingAndGlyphs" >15 Apr 2020</text>
<rect x="899" y="680" width="1" height="3" fill="#000" />
<text x="898" y="692" font-size="10" fill="#000" stroke="#000" stroke-width="0.18" textLength="50.4" lengthAdjust="spacingAndGlyphs" >24 Apr 2020</text>
<rect x="963" y="680" width="1" height="3" fill="#000" />
<text x="962" y="692" font-size="10" fill="#000" stroke="#000" stroke-width="0.18" textLength="49.7" lengthAdjust="spacingAndGlyphs" >4 May 2020</text>
<rect x="1027" y="680" width="1" height="3" fill="#000" />
<text x="1026" y="692" font-size="10" fill="#000" stroke="#000" stroke-width="0.18" textLength="54.2" lengthAdjust="spacingAndGlyphs" >13 May 2020</text>
<rect x="1091" y="680" width="1" height="3" fill="#000" />
<text x="1090" y="692" font-size="10" fill="#000" stroke="#000" stroke-width="0.18" textLength="54.2" lengthAdjust="spacingAndGlyphs" >22 May 2020</text>
<rect x="1155" y="680" width="1" height="3" fill="#000" />
<text x="1154" y="692" font-size="10" fill="#000" stroke="#000" stroke-width="0.18" textLength="44" lengthAdjust="spacingAndGlyphs" >1 Jun 2020</text>
<rect x="0" y="700" width="1529" height="1" fill="#e3e3e3" />
<rect x="0" y="703" width="1529" height="18" fill="#f0f0f0" />
<rect x="0" y="702" width="1529" height="1" fill="#000" />
<rect x="108" y="702" width="100" height="19" fill="#fff" />
<rect x="108" y="702" width="1" height="19" fill="#000" />
<rect x="207" y="702" width="1" height="19" fill="#000" />
<rect x="108" y="720" width="100" height="1" fill="#000" />
<text x="16.5" y="716.3" font-size="12" fill="#6d6d6d" stroke="#6d6d6d" stroke-width="0" textLength="79.5" lengthAdjust="spacingAndGlyphs" >EURUSD,Daily</text>
<text x="118" y="716.3" font-size="12" fill="#000" stroke="#000" stroke-width="0" textLength="78.5" lengthAdjust="spacingAndGlyphs" >USDCHF,Daily</text>
<text x="219.7" y="716.3" font-size="12" fill="#6d6d6d" stroke="#6d6d6d" stroke-width="0" textLength="80.6" lengthAdjust="spacingAndGlyphs" >AUDUSD,Daily</text>
<text x="323.6" y="716.3" font-size="12" fill="#6d6d6d" stroke="#6d6d6d" stroke-width="0" textLength="80.6" lengthAdjust="spacingAndGlyphs" >USDCAD,Daily</text>
<text x="426.3" y="716.3" font-size="12" fill="#6d6d6d" stroke="#6d6d6d" stroke-width="0" textLength="82.7" lengthAdjust="spacingAndGlyphs" >USDCNH,Daily</text>
<text x="532.5" y="716.3" font-size="12" fill="#6d6d6d" stroke="#6d6d6d" stroke-width="0" textLength="79.5" lengthAdjust="spacingAndGlyphs" >EURUSD,Daily</text>
<text x="636.4" y="716.3" font-size="12" fill="#6d6d6d" stroke="#6d6d6d" stroke-width="0" textLength="79.2" lengthAdjust="spacingAndGlyphs" >GBPUSD,Daily</text>
<text x="739.7" y="716.3" font-size="12" fill="#6d6d6d" stroke="#6d6d6d" stroke-width="0" textLength="68.2" lengthAdjust="spacingAndGlyphs" >XAUUSD,H4</text>
<text x="831.2" y="716.3" font-size="12" fill="#6d6d6d" stroke="#6d6d6d" stroke-width="0" textLength="49.1" lengthAdjust="spacingAndGlyphs" >HK50,H1</text>
<text x="903.4" y="716.3" font-size="12" fill="#6d6d6d" stroke="#6d6d6d" stroke-width="0" textLength="55.9" lengthAdjust="spacingAndGlyphs" >UK100,H1</text>
<text x="983.2" y="716.3" font-size="12" fill="#6d6d6d" stroke="#6d6d6d" stroke-width="0" textLength="56.2" lengthAdjust="spacingAndGlyphs" >UK100,H1</text>
<text x="1063" y="716.3" font-size="12" fill="#6d6d6d" stroke="#6d6d6d" stroke-width="0" textLength="56" lengthAdjust="spacingAndGlyphs" >GER30,H1</text>
<text x="1142" y="716.3" font-size="12" fill="#6d6d6d" stroke="#6d6d6d" stroke-width="0" textLength="54.5" lengthAdjust="spacingAndGlyphs" >FRA40,H1</text>
<text x="1218.5" y="716.3" font-size="12" fill="#6d6d6d" stroke="#6d6d6d" stroke-width="0" textLength="62.2" lengthAdjust="spacingAndGlyphs" >USOil,Daily</text>
<text x="1302.4" y="716.3" font-size="12" fill="#6d6d6d" stroke="#6d6d6d" stroke-width="0" textLength="62" lengthAdjust="spacingAndGlyphs" >USDJPY,H1</text>
<text x="1386.7" y="716.3" font-size="12" fill="#6d6d6d" stroke="#6d6d6d" stroke-width="0" textLength="45.8" lengthAdjust="spacingAndGlyphs" >DJ30,H1</text>
<rect x="312" y="705" width="1" height="14" fill="#6a6a6a" />
<rect x="416" y="705" width="1" height="14" fill="#6a6a6a" />
<rect x="520" y="705" width="1" height="14" fill="#6a6a6a" />
<rect x="624" y="705" width="1" height="14" fill="#6a6a6a" />
<rect x="728" y="705" width="1" height="14" fill="#6a6a6a" />
<rect x="820" y="705" width="1" height="14" fill="#6a6a6a" />
<rect x="892" y="705" width="1" height="14" fill="#6a6a6a" />
<rect x="972" y="705" width="1" height="14" fill="#6a6a6a" />
<rect x="1052" y="705" width="1" height="14" fill="#6a6a6a" />
<rect x="1132" y="705" width="1" height="14" fill="#6a6a6a" />
<rect x="1208" y="705" width="1" height="14" fill="#6a6a6a" />
<rect x="1292" y="705" width="1" height="14" fill="#6a6a6a" />
<rect x="1376" y="705" width="1" height="14" fill="#6a6a6a" />
<rect x="1445" y="705" width="1" height="14" fill="#6a6a6a" />
<polygon points="1506.5,708 1506.5,715 1503,711.5" fill="#808080" shape-rendering="auto"/>
<polygon points="1521,708 1521,715 1524.5,711.5" fill="#808080" shape-rendering="auto"/>
</svg>
</body></html>
